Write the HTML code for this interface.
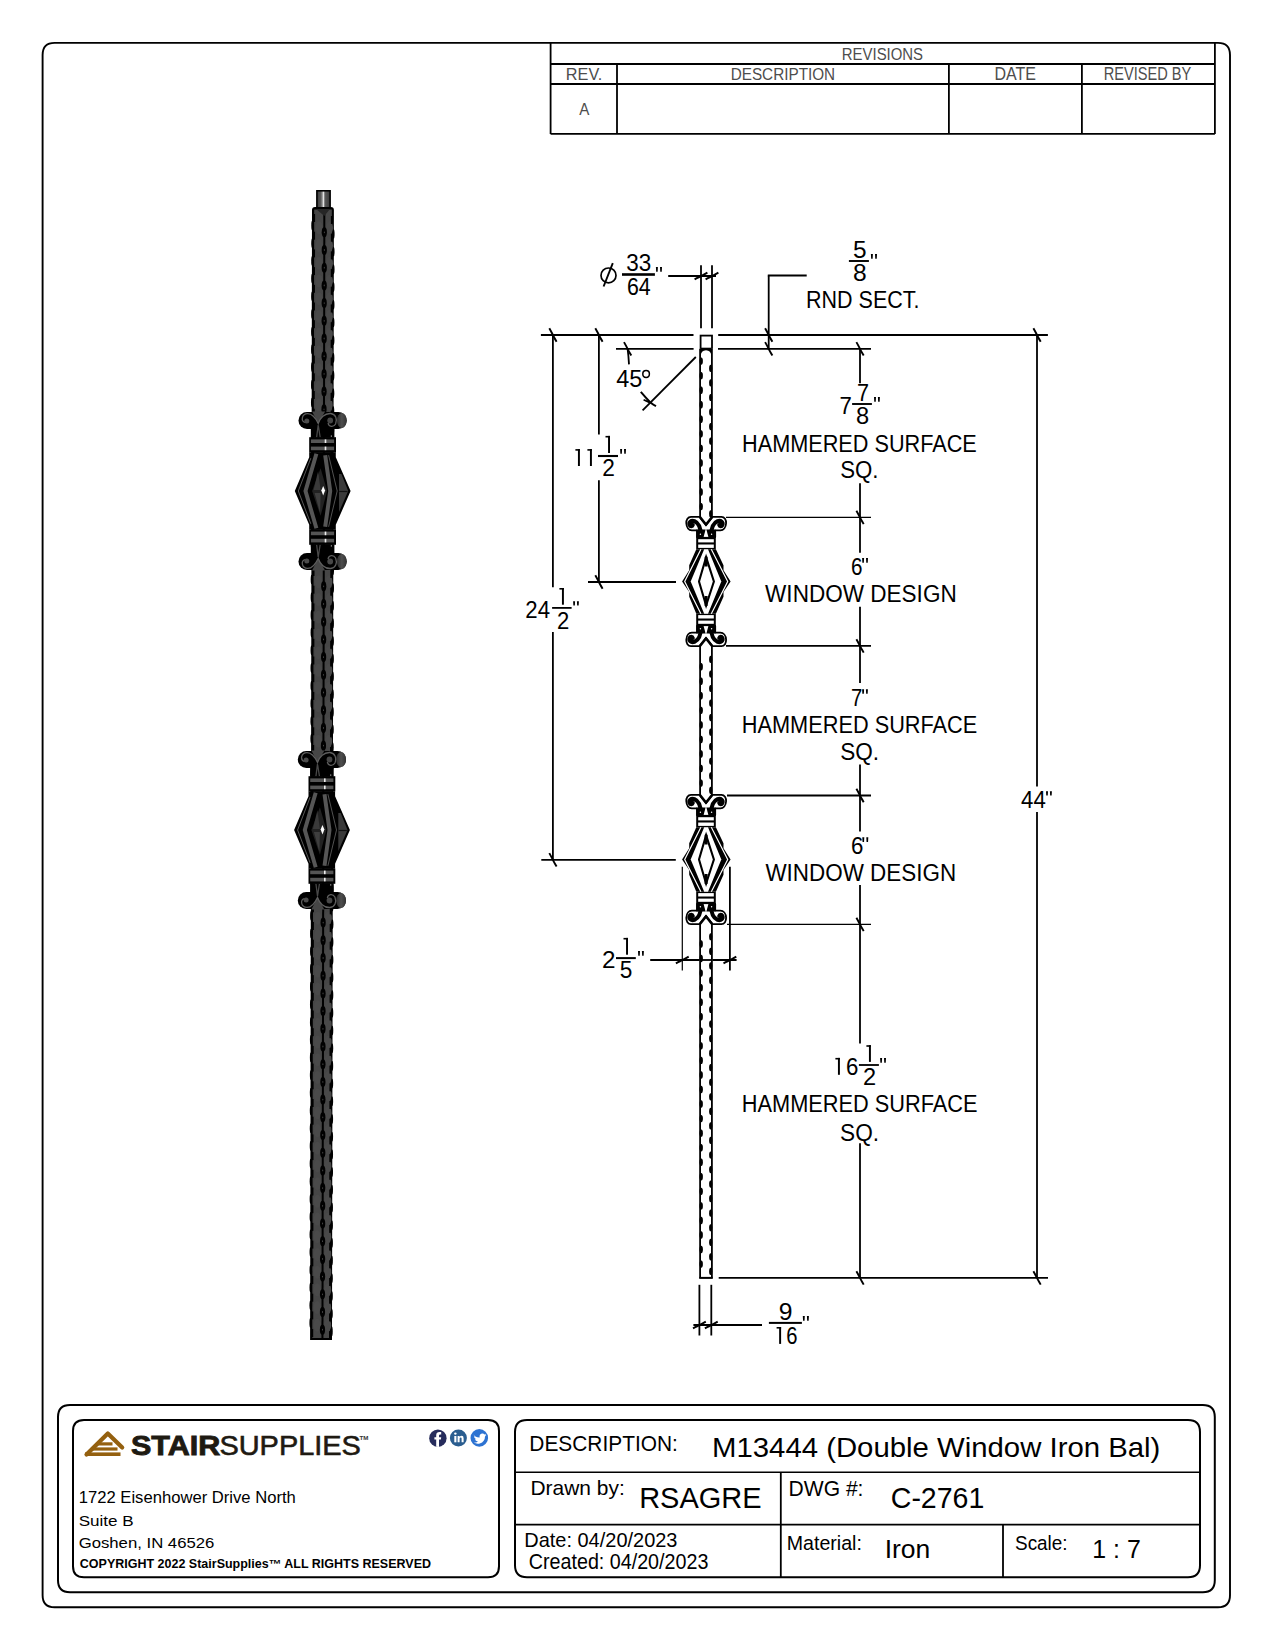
<!DOCTYPE html>
<html><head><meta charset="utf-8"><style>
html,body{margin:0;padding:0;background:#fff;}
svg{display:block;}
text{font-family:"Liberation Sans",sans-serif;}
</style></head><body>
<svg width="1275" height="1650" viewBox="0 0 1275 1650">
<rect x="0" y="0" width="1275" height="1650" fill="#fff"/>
<path d="M42.6,55 Q42.6,42.9 54.6,42.9 L1218,42.9 Q1230,42.9 1230,55 L1230,1595.3 Q1230,1607.3 1218,1607.3 L54.6,1607.3 Q42.6,1607.3 42.6,1595.3 Z" stroke="#000" stroke-width="1.9" fill="none" />
<line x1="550.6" y1="43" x2="550.6" y2="134" stroke="#000" stroke-width="1.8"/>
<line x1="1214.9" y1="43" x2="1214.9" y2="134" stroke="#000" stroke-width="1.8"/>
<line x1="550.6" y1="64" x2="1214.9" y2="64" stroke="#000" stroke-width="1.8"/>
<line x1="550.6" y1="84" x2="1214.9" y2="84" stroke="#000" stroke-width="1.8"/>
<line x1="550.6" y1="133.8" x2="1214.9" y2="133.8" stroke="#000" stroke-width="1.8"/>
<line x1="617" y1="64" x2="617" y2="134" stroke="#000" stroke-width="1.8"/>
<line x1="948.9" y1="64" x2="948.9" y2="134" stroke="#000" stroke-width="1.8"/>
<line x1="1081.9" y1="64" x2="1081.9" y2="134" stroke="#000" stroke-width="1.8"/>
<path d="M58,1417 Q58,1405 70,1405 L1202.8,1405 Q1214.8,1405 1214.8,1417 L1214.8,1580.2 Q1214.8,1592.2 1202.8,1592.2 L70,1592.2 Q58,1592.2 58,1580.2 Z" stroke="#000" stroke-width="2" fill="none" />
<path d="M73,1431 Q73,1420 84,1420 L488,1420 Q499,1420 499,1431 L499,1566.2 Q499,1577.2 488,1577.2 L84,1577.2 Q73,1577.2 73,1566.2 Z" stroke="#000" stroke-width="2" fill="none" />
<path d="M515,1432 Q515,1420 527,1420 L1188,1420 Q1200,1420 1200,1432 L1200,1565.2 Q1200,1577.2 1188,1577.2 L527,1577.2 Q515,1577.2 515,1565.2 Z" stroke="#000" stroke-width="2" fill="none" />
<line x1="515" y1="1472.2" x2="1200" y2="1472.2" stroke="#000" stroke-width="1.5"/>
<line x1="515" y1="1524.6" x2="1200" y2="1524.6" stroke="#000" stroke-width="1.8"/>
<line x1="780.8" y1="1472.2" x2="780.8" y2="1577" stroke="#000" stroke-width="1.8"/>
<line x1="1003" y1="1524.6" x2="1003" y2="1577" stroke="#000" stroke-width="1.8"/>
<line x1="540.9" y1="335" x2="693.5" y2="335" stroke="#000" stroke-width="1.8"/>
<line x1="718.2" y1="335" x2="1047.9" y2="335" stroke="#000" stroke-width="1.8"/>
<line x1="616" y1="348.8" x2="693.6" y2="348.8" stroke="#000" stroke-width="1.8"/>
<line x1="718" y1="348.8" x2="871" y2="348.8" stroke="#000" stroke-width="1.8"/>
<line x1="726" y1="517.4" x2="871" y2="517.4" stroke="#000" stroke-width="1.2"/>
<line x1="588" y1="582" x2="676" y2="582" stroke="#000" stroke-width="1.8"/>
<line x1="726" y1="645.9" x2="871" y2="645.9" stroke="#000" stroke-width="1.8"/>
<line x1="727" y1="795.5" x2="871" y2="795.5" stroke="#000" stroke-width="1.8"/>
<line x1="541.3" y1="859.8" x2="675.8" y2="859.8" stroke="#000" stroke-width="1.8"/>
<line x1="727" y1="924.4" x2="871" y2="924.4" stroke="#000" stroke-width="1.2"/>
<line x1="718.7" y1="1277.9" x2="1048" y2="1277.9" stroke="#000" stroke-width="1.8"/>
<line x1="552.9" y1="335" x2="552.9" y2="587.3" stroke="#000" stroke-width="1.8"/>
<line x1="552.9" y1="632" x2="552.9" y2="859.8" stroke="#000" stroke-width="1.8"/>
<line x1="598.9" y1="335" x2="598.9" y2="434.4" stroke="#000" stroke-width="1.8"/>
<line x1="598.9" y1="480.3" x2="598.9" y2="582" stroke="#000" stroke-width="1.8"/>
<path d="M627.6,348.8 Q628.6,356 629,364.4" stroke="#000" stroke-width="1.8" fill="none" />
<line x1="768.7" y1="275.5" x2="768.7" y2="350" stroke="#000" stroke-width="1.8"/>
<line x1="767.8" y1="275.5" x2="806.7" y2="275.5" stroke="#000" stroke-width="1.8"/>
<line x1="860" y1="348.8" x2="860" y2="383.3" stroke="#000" stroke-width="1.8"/>
<line x1="860" y1="483.2" x2="860" y2="552.7" stroke="#000" stroke-width="1.8"/>
<line x1="860" y1="606.7" x2="860" y2="683" stroke="#000" stroke-width="1.8"/>
<line x1="860" y1="764.5" x2="860" y2="831.4" stroke="#000" stroke-width="1.8"/>
<line x1="860" y1="885.1" x2="860" y2="1043.4" stroke="#000" stroke-width="1.8"/>
<line x1="860" y1="1143.3" x2="860" y2="1277.9" stroke="#000" stroke-width="1.8"/>
<line x1="1037" y1="335" x2="1037" y2="786.5" stroke="#000" stroke-width="1.8"/>
<line x1="1037" y1="812.1" x2="1037" y2="1277.9" stroke="#000" stroke-width="1.8"/>
<line x1="701" y1="265.2" x2="701" y2="328.2" stroke="#000" stroke-width="1.8"/>
<line x1="712" y1="265.2" x2="712" y2="328.2" stroke="#000" stroke-width="1.8"/>
<line x1="668.2" y1="276" x2="716" y2="276" stroke="#000" stroke-width="1.8"/>
<line x1="699.4" y1="1284.8" x2="699.4" y2="1335.5" stroke="#000" stroke-width="1.8"/>
<line x1="711.3" y1="1284.8" x2="711.3" y2="1335.5" stroke="#000" stroke-width="1.8"/>
<line x1="693.4" y1="1325" x2="762" y2="1325" stroke="#000" stroke-width="1.8"/>
<line x1="682.3" y1="866.8" x2="682.3" y2="970.5" stroke="#000" stroke-width="1.2"/>
<line x1="729.9" y1="866.8" x2="729.9" y2="970.5" stroke="#000" stroke-width="1.8"/>
<line x1="650.2" y1="960" x2="736.6" y2="960" stroke="#000" stroke-width="1.8"/>
<line x1="695.8" y1="357.0" x2="642.6" y2="410.4" stroke="#000" stroke-width="1.8"/>
<path d="M549.3,328.3 Q552.1999999999999,333.5 552.9,335 Q553.6,336.5 556.6,341.7" stroke="#000" stroke-width="1.9" fill="none" />
<path d="M549.3,853.0999999999999 Q552.1999999999999,858.3 552.9,859.8 Q553.6,861.3 556.6,866.5" stroke="#000" stroke-width="1.9" fill="none" />
<path d="M595.3,328.3 Q598.1999999999999,333.5 598.9,335 Q599.6,336.5 602.6,341.7" stroke="#000" stroke-width="1.9" fill="none" />
<path d="M595.3,575.3 Q598.1999999999999,580.5 598.9,582 Q599.6,583.5 602.6,588.7" stroke="#000" stroke-width="1.9" fill="none" />
<path d="M765.1,328.3 Q768.0,333.5 768.7,335 Q769.4000000000001,336.5 772.4000000000001,341.7" stroke="#000" stroke-width="1.9" fill="none" />
<path d="M765.1,342.1 Q768.0,347.3 768.7,348.8 Q769.4000000000001,350.3 772.4000000000001,355.5" stroke="#000" stroke-width="1.9" fill="none" />
<path d="M856.4,342.1 Q859.3,347.3 860,348.8 Q860.7,350.3 863.7,355.5" stroke="#000" stroke-width="1.9" fill="none" />
<path d="M856.4,510.7 Q859.3,515.9 860,517.4 Q860.7,518.9 863.7,524.1" stroke="#000" stroke-width="1.9" fill="none" />
<path d="M856.4,639.1999999999999 Q859.3,644.4 860,645.9 Q860.7,647.4 863.7,652.6" stroke="#000" stroke-width="1.9" fill="none" />
<path d="M856.4,788.8 Q859.3,794.0 860,795.5 Q860.7,797.0 863.7,802.2" stroke="#000" stroke-width="1.9" fill="none" />
<path d="M856.4,917.6999999999999 Q859.3,922.9 860,924.4 Q860.7,925.9 863.7,931.1" stroke="#000" stroke-width="1.9" fill="none" />
<path d="M856.4,1271.2 Q859.3,1276.4 860,1277.9 Q860.7,1279.4 863.7,1284.6000000000001" stroke="#000" stroke-width="1.9" fill="none" />
<path d="M1033.4,328.3 Q1036.3,333.5 1037,335 Q1037.7,336.5 1040.7,341.7" stroke="#000" stroke-width="1.9" fill="none" />
<path d="M1033.4,1271.2 Q1036.3,1276.4 1037,1277.9 Q1037.7,1279.4 1040.7,1284.6000000000001" stroke="#000" stroke-width="1.9" fill="none" />
<path d="M624.0,342.1 Q626.9,347.3 627.6,348.8 Q628.3000000000001,350.3 631.3000000000001,355.5" stroke="#000" stroke-width="1.9" fill="none" />
<path d="M694.6,279.4 Q699.5,276.6 701,276 Q702.5,275.4 707.4,272.6" stroke="#000" stroke-width="1.9" fill="none" />
<path d="M705.6,279.4 Q710.5,276.6 712,276 Q713.5,275.4 718.4,272.6" stroke="#000" stroke-width="1.9" fill="none" />
<path d="M675.9,963.4 Q680.8,960.6 682.3,960 Q683.8,959.4 688.6999999999999,956.6" stroke="#000" stroke-width="1.9" fill="none" />
<path d="M723.5,963.4 Q728.4,960.6 729.9,960 Q731.4,959.4 736.3,956.6" stroke="#000" stroke-width="1.9" fill="none" />
<path d="M693.0,1328.4 Q697.9,1325.6 699.4,1325 Q700.9,1324.4 705.8,1321.6" stroke="#000" stroke-width="1.9" fill="none" />
<path d="M704.9,1328.4 Q709.8,1325.6 711.3,1325 Q712.8,1324.4 717.6999999999999,1321.6" stroke="#000" stroke-width="1.9" fill="none" />
<path d="M640.8,391.8 Q646,397.8 650.1,402.2 Q653,404.6 656,406.2" stroke="#000" stroke-width="2" fill="none" />
<path d="M643.6,399.8 L650,402.6" stroke="#000" stroke-width="1.8" fill="none" />
<ellipse cx="608.5" cy="275.4" rx="7.5" ry="7.4" fill="none" stroke="#000" stroke-width="1.7"/>
<line x1="612.8" y1="263.2" x2="603.6" y2="286.5" stroke="#000" stroke-width="1.9"/>
<rect x="622" y="273.2" width="32.89999999999998" height="2.6" fill="#000"/>
<path d="M655.9,267.1 h2.0 l-0.25,4.699999999999989 h-1.5 Z M660.0,267.1 h2.0 l-0.25,4.699999999999989 h-1.5 Z" fill="#000"/>
<rect x="848.9" y="260.05" width="20.0" height="1.9" fill="#000"/>
<path d="M870.9,254.1 h2.0 l-0.25,4.700000000000017 h-1.5 Z M875.0,254.1 h2.0 l-0.25,4.700000000000017 h-1.5 Z" fill="#000"/>
<rect x="852.1" y="403.05" width="19.799999999999955" height="1.9" fill="#000"/>
<path d="M874,397.1 h2.0 l-0.25,4.699999999999989 h-1.5 Z M877.9,397.1 h2.0 l-0.25,4.699999999999989 h-1.5 Z" fill="#000"/>
<rect x="577.95" y="449.10" width="1.95" height="16.90" fill="#000"/>
<rect x="575.40" y="449.10" width="4.5" height="1.6" fill="#000"/>
<rect x="589.95" y="449.10" width="1.95" height="16.90" fill="#000"/>
<rect x="587.40" y="449.10" width="4.5" height="1.6" fill="#000"/>
<rect x="608.05" y="435.90" width="1.95" height="17.10" fill="#000"/>
<rect x="605.50" y="435.90" width="4.5" height="1.6" fill="#000"/>
<rect x="598" y="454.95" width="20" height="2.1" fill="#000"/>
<path d="M620.1,449.1 h2.0 l-0.25,4.699999999999989 h-1.5 Z M624.0,449.1 h2.0 l-0.25,4.699999999999989 h-1.5 Z" fill="#000"/>
<rect x="561.95" y="588.00" width="1.95" height="16.70" fill="#000"/>
<rect x="559.40" y="588.00" width="4.5" height="1.6" fill="#000"/>
<rect x="552.1" y="607.0" width="19.5" height="1.8" fill="#000"/>
<path d="M573.1,601.2 h2.0 l-0.25,4.399999999999977 h-1.5 Z M576.9,601.2 h2.0 l-0.25,4.399999999999977 h-1.5 Z" fill="#000"/>
<path d="M862.1,558 h2.0 l-0.25,4.7000000000000455 h-1.5 Z M866.0,558 h2.0 l-0.25,4.7000000000000455 h-1.5 Z" fill="#000"/>
<path d="M862.1,689.2 h2.0 l-0.25,4.5 h-1.5 Z M865.9,689.2 h2.0 l-0.25,4.5 h-1.5 Z" fill="#000"/>
<path d="M862.3,837.2 h2.0 l-0.25,4.699999999999932 h-1.5 Z M866.3,837.2 h2.0 l-0.25,4.699999999999932 h-1.5 Z" fill="#000"/>
<rect x="626.05" y="937.90" width="1.95" height="16.80" fill="#000"/>
<rect x="623.50" y="937.90" width="4.5" height="1.6" fill="#000"/>
<rect x="616" y="957.1" width="19.799999999999955" height="2" fill="#000"/>
<path d="M638,951 h2.0 l-0.25,4.7000000000000455 h-1.5 Z M641.9,951 h2.0 l-0.25,4.7000000000000455 h-1.5 Z" fill="#000"/>
<rect x="837.95" y="1057.90" width="1.95" height="16.90" fill="#000"/>
<rect x="835.40" y="1057.90" width="4.5" height="1.6" fill="#000"/>
<rect x="868.95" y="1045.20" width="1.95" height="16.70" fill="#000"/>
<rect x="866.40" y="1045.20" width="4.5" height="1.6" fill="#000"/>
<rect x="858.9" y="1064.1" width="20.0" height="1.8" fill="#000"/>
<path d="M880.1,1058.1 h2.0 l-0.25,4.7000000000000455 h-1.5 Z M884.0,1058.1 h2.0 l-0.25,4.7000000000000455 h-1.5 Z" fill="#000"/>
<rect x="768.9" y="1321.9" width="33.0" height="2" fill="#000"/>
<rect x="779.15" y="1327.00" width="1.95" height="16.90" fill="#000"/>
<rect x="776.60" y="1327.00" width="4.5" height="1.6" fill="#000"/>
<path d="M802.8,1316 h2.0 l-0.25,4.7000000000000455 h-1.5 Z M806.9,1316 h2.0 l-0.25,4.7000000000000455 h-1.5 Z" fill="#000"/>
<path d="M1046,791.2 h2.0 l-0.25,4.399999999999977 h-1.5 Z M1049.9,791.2 h2.0 l-0.25,4.399999999999977 h-1.5 Z" fill="#000"/>
<ellipse cx="646.1" cy="374" rx="3.3" ry="3.4" fill="none" stroke="#000" stroke-width="1.5"/>
<path d="M86.5,1454.6 L107.8,1433.4 L122.2,1447.6" fill="none" stroke="#94600f" stroke-width="4.2" stroke-linejoin="round" stroke-linecap="round"/>
<rect x="97" y="1442.3" width="15.5" height="3.2" fill="#94600f"/>
<rect x="91.5" y="1447.4" width="26" height="3.2" fill="#94600f"/>
<rect x="85" y="1452.4" width="35.5" height="3.6" fill="#94600f"/>
<text x="359.6" y="1440" font-size="6.2" font-weight="bold" fill="#333">TM</text>
<circle cx="437.9" cy="1438.2" r="8.7" fill="#262c5c"/>
<path d="M436.2,1446.8 L436.2,1439.5 L434.4,1439.5 L434.4,1437.2 L436.2,1437.2 L436.2,1435.3 Q436.2,1432 439.6,1432 L441.2,1432.1 L441.2,1434.4 L440.1,1434.4 Q439,1434.4 439,1435.5 L439,1437.2 L441.2,1437.2 L440.9,1439.5 L439,1439.5 L439,1446.9 Z" fill="#fff"/>
<circle cx="458.4" cy="1437.9" r="8.5" fill="#2a5d8f"/>
<rect x="454.3" y="1436" width="2.1" height="6.3" fill="#fff"/><circle cx="455.35" cy="1433.6" r="1.2" fill="#fff"/>
<path d="M457.6,1442.3 L457.6,1436 L459.6,1436 L459.6,1436.9 Q460.4,1435.8 461.8,1435.8 Q463.6,1435.8 463.6,1438.2 L463.6,1442.3 L461.6,1442.3 L461.6,1438.6 Q461.6,1437.5 460.7,1437.5 Q459.6,1437.5 459.6,1438.8 L459.6,1442.3 Z" fill="#fff"/>
<circle cx="479.3" cy="1437.9" r="8.8" fill="#2d73d2"/>
<path d="M473.6,1434.4 Q475.6,1437.6 479.6,1437.4 Q479.2,1434.2 482,1433.6 Q483.6,1433.4 484.6,1434.4 L486.2,1433.8 L485.2,1435.2 L486.4,1435 Q485.6,1436 485,1436.4 Q485,1441.6 479.8,1443.4 Q476.6,1444.2 473.8,1442.6 Q476.4,1442.6 478,1441.4 Q475.6,1441.2 474.8,1439.2 L476.2,1439.2 Q474,1438.4 474,1436.2 L475.4,1436.6 Q473.6,1435.4 473.6,1434.4 Z" fill="#fff"/>
<rect x="700.6" y="335.6" width="11.4" height="13" fill="#fff" stroke="#000" stroke-width="1.8"/>
<rect x="699.2" y="348.8" width="13.6" height="168.7" fill="#fff"/>
<rect x="699.2" y="348.8" width="1.8" height="168.7" fill="#000"/>
<rect x="711.0" y="348.8" width="1.8" height="168.7" fill="#000"/>
<ellipse cx="701.2" cy="361.10" rx="1.7" ry="3.7" fill="#000"/>
<ellipse cx="710.7" cy="368.38" rx="1.6" ry="3.6" fill="#000"/>
<ellipse cx="701.2" cy="375.65" rx="1.7" ry="3.7" fill="#000"/>
<ellipse cx="710.7" cy="382.93" rx="1.6" ry="3.6" fill="#000"/>
<ellipse cx="701.2" cy="390.20" rx="1.7" ry="3.7" fill="#000"/>
<ellipse cx="710.7" cy="397.48" rx="1.6" ry="3.6" fill="#000"/>
<ellipse cx="701.2" cy="404.75" rx="1.7" ry="3.7" fill="#000"/>
<ellipse cx="710.7" cy="412.03" rx="1.6" ry="3.6" fill="#000"/>
<ellipse cx="701.2" cy="419.30" rx="1.7" ry="3.7" fill="#000"/>
<ellipse cx="710.7" cy="426.58" rx="1.6" ry="3.6" fill="#000"/>
<ellipse cx="701.2" cy="433.85" rx="1.7" ry="3.7" fill="#000"/>
<ellipse cx="710.7" cy="441.13" rx="1.6" ry="3.6" fill="#000"/>
<ellipse cx="701.2" cy="448.40" rx="1.7" ry="3.7" fill="#000"/>
<ellipse cx="710.7" cy="455.68" rx="1.6" ry="3.6" fill="#000"/>
<ellipse cx="701.2" cy="462.95" rx="1.7" ry="3.7" fill="#000"/>
<ellipse cx="710.7" cy="470.23" rx="1.6" ry="3.6" fill="#000"/>
<ellipse cx="701.2" cy="477.50" rx="1.7" ry="3.7" fill="#000"/>
<ellipse cx="710.7" cy="484.78" rx="1.6" ry="3.6" fill="#000"/>
<ellipse cx="701.2" cy="492.05" rx="1.7" ry="3.7" fill="#000"/>
<ellipse cx="710.7" cy="499.33" rx="1.6" ry="3.6" fill="#000"/>
<ellipse cx="701.2" cy="506.60" rx="1.7" ry="3.7" fill="#000"/>
<ellipse cx="710.7" cy="513.88" rx="1.6" ry="3.6" fill="#000"/>
<path d="M700.5,348 L711.5,348 L711.5,356 Q711,350.5 706,350.2 Q701,350.5 700.5,356 Z" fill="#000"/>
<rect x="699.2" y="645.5" width="13.6" height="150.0" fill="#fff"/>
<rect x="699.2" y="645.5" width="1.8" height="150.0" fill="#000"/>
<rect x="711.0" y="645.5" width="1.8" height="150.0" fill="#000"/>
<ellipse cx="710.7" cy="659.43" rx="1.6" ry="3.6" fill="#000"/>
<ellipse cx="701.2" cy="666.70" rx="1.7" ry="3.7" fill="#000"/>
<ellipse cx="710.7" cy="673.98" rx="1.6" ry="3.6" fill="#000"/>
<ellipse cx="701.2" cy="681.25" rx="1.7" ry="3.7" fill="#000"/>
<ellipse cx="710.7" cy="688.52" rx="1.6" ry="3.6" fill="#000"/>
<ellipse cx="701.2" cy="695.80" rx="1.7" ry="3.7" fill="#000"/>
<ellipse cx="710.7" cy="703.07" rx="1.6" ry="3.6" fill="#000"/>
<ellipse cx="701.2" cy="710.35" rx="1.7" ry="3.7" fill="#000"/>
<ellipse cx="710.7" cy="717.62" rx="1.6" ry="3.6" fill="#000"/>
<ellipse cx="701.2" cy="724.90" rx="1.7" ry="3.7" fill="#000"/>
<ellipse cx="710.7" cy="732.17" rx="1.6" ry="3.6" fill="#000"/>
<ellipse cx="701.2" cy="739.45" rx="1.7" ry="3.7" fill="#000"/>
<ellipse cx="710.7" cy="746.72" rx="1.6" ry="3.6" fill="#000"/>
<ellipse cx="701.2" cy="754.00" rx="1.7" ry="3.7" fill="#000"/>
<ellipse cx="710.7" cy="761.27" rx="1.6" ry="3.6" fill="#000"/>
<ellipse cx="701.2" cy="768.55" rx="1.7" ry="3.7" fill="#000"/>
<ellipse cx="710.7" cy="775.82" rx="1.6" ry="3.6" fill="#000"/>
<ellipse cx="701.2" cy="783.10" rx="1.7" ry="3.7" fill="#000"/>
<ellipse cx="710.7" cy="790.37" rx="1.6" ry="3.6" fill="#000"/>
<rect x="699.2" y="923.5" width="13.6" height="354.4000000000001" fill="#fff"/>
<rect x="699.2" y="923.5" width="1.8" height="354.4000000000001" fill="#000"/>
<rect x="711.0" y="923.5" width="1.8" height="354.4000000000001" fill="#000"/>
<ellipse cx="710.7" cy="936.73" rx="1.6" ry="3.6" fill="#000"/>
<ellipse cx="701.2" cy="944.00" rx="1.7" ry="3.7" fill="#000"/>
<ellipse cx="710.7" cy="951.28" rx="1.6" ry="3.6" fill="#000"/>
<ellipse cx="701.2" cy="958.55" rx="1.7" ry="3.7" fill="#000"/>
<ellipse cx="710.7" cy="965.83" rx="1.6" ry="3.6" fill="#000"/>
<ellipse cx="701.2" cy="973.10" rx="1.7" ry="3.7" fill="#000"/>
<ellipse cx="710.7" cy="980.38" rx="1.6" ry="3.6" fill="#000"/>
<ellipse cx="701.2" cy="987.65" rx="1.7" ry="3.7" fill="#000"/>
<ellipse cx="710.7" cy="994.93" rx="1.6" ry="3.6" fill="#000"/>
<ellipse cx="701.2" cy="1002.20" rx="1.7" ry="3.7" fill="#000"/>
<ellipse cx="710.7" cy="1009.48" rx="1.6" ry="3.6" fill="#000"/>
<ellipse cx="701.2" cy="1016.75" rx="1.7" ry="3.7" fill="#000"/>
<ellipse cx="710.7" cy="1024.03" rx="1.6" ry="3.6" fill="#000"/>
<ellipse cx="701.2" cy="1031.30" rx="1.7" ry="3.7" fill="#000"/>
<ellipse cx="710.7" cy="1038.58" rx="1.6" ry="3.6" fill="#000"/>
<ellipse cx="701.2" cy="1045.85" rx="1.7" ry="3.7" fill="#000"/>
<ellipse cx="710.7" cy="1053.13" rx="1.6" ry="3.6" fill="#000"/>
<ellipse cx="701.2" cy="1060.40" rx="1.7" ry="3.7" fill="#000"/>
<ellipse cx="710.7" cy="1067.68" rx="1.6" ry="3.6" fill="#000"/>
<ellipse cx="701.2" cy="1074.95" rx="1.7" ry="3.7" fill="#000"/>
<ellipse cx="710.7" cy="1082.23" rx="1.6" ry="3.6" fill="#000"/>
<ellipse cx="701.2" cy="1089.50" rx="1.7" ry="3.7" fill="#000"/>
<ellipse cx="710.7" cy="1096.78" rx="1.6" ry="3.6" fill="#000"/>
<ellipse cx="701.2" cy="1104.05" rx="1.7" ry="3.7" fill="#000"/>
<ellipse cx="710.7" cy="1111.33" rx="1.6" ry="3.6" fill="#000"/>
<ellipse cx="701.2" cy="1118.60" rx="1.7" ry="3.7" fill="#000"/>
<ellipse cx="710.7" cy="1125.88" rx="1.6" ry="3.6" fill="#000"/>
<ellipse cx="701.2" cy="1133.15" rx="1.7" ry="3.7" fill="#000"/>
<ellipse cx="710.7" cy="1140.43" rx="1.6" ry="3.6" fill="#000"/>
<ellipse cx="701.2" cy="1147.70" rx="1.7" ry="3.7" fill="#000"/>
<ellipse cx="710.7" cy="1154.98" rx="1.6" ry="3.6" fill="#000"/>
<ellipse cx="701.2" cy="1162.25" rx="1.7" ry="3.7" fill="#000"/>
<ellipse cx="710.7" cy="1169.53" rx="1.6" ry="3.6" fill="#000"/>
<ellipse cx="701.2" cy="1176.80" rx="1.7" ry="3.7" fill="#000"/>
<ellipse cx="710.7" cy="1184.08" rx="1.6" ry="3.6" fill="#000"/>
<ellipse cx="701.2" cy="1191.35" rx="1.7" ry="3.7" fill="#000"/>
<ellipse cx="710.7" cy="1198.63" rx="1.6" ry="3.6" fill="#000"/>
<ellipse cx="701.2" cy="1205.90" rx="1.7" ry="3.7" fill="#000"/>
<ellipse cx="710.7" cy="1213.18" rx="1.6" ry="3.6" fill="#000"/>
<ellipse cx="701.2" cy="1220.45" rx="1.7" ry="3.7" fill="#000"/>
<ellipse cx="710.7" cy="1227.73" rx="1.6" ry="3.6" fill="#000"/>
<ellipse cx="701.2" cy="1235.00" rx="1.7" ry="3.7" fill="#000"/>
<ellipse cx="710.7" cy="1242.28" rx="1.6" ry="3.6" fill="#000"/>
<ellipse cx="701.2" cy="1249.55" rx="1.7" ry="3.7" fill="#000"/>
<ellipse cx="710.7" cy="1256.83" rx="1.6" ry="3.6" fill="#000"/>
<ellipse cx="701.2" cy="1264.10" rx="1.7" ry="3.7" fill="#000"/>
<ellipse cx="710.7" cy="1271.38" rx="1.6" ry="3.6" fill="#000"/>
<rect x="699.2" y="1276.9" width="13.6" height="2.0" fill="#000"/>
<path d="M699.4,516.9 L691,516.9 C687.8,516.9 686.2,520.0 686.3,523.3 C686.5,527.5 688.8,530.3 691.8,530.3 L697,530.3 L697,537.0 L715.2,537.0 L715.2,530.3 L720.4,530.3 C723.4,530.3 725.9,527.5 726.1,523.3 C726.2,520.0 724.6,516.9 721.4,516.9 L712.6,516.9 L706,525.3 Z" fill="#fff" stroke="#000" stroke-width="1.8" stroke-linejoin="round"/>
<rect x="696.4" y="529.5" width="19.2" height="7.5" fill="#000"/>
<path d="M701,536.5 C701,529.5 699,523.0 694.5,521.2 C690.8,520.0 688.6,522.7 689.6,525.1 C690.4,526.7 692.3,526.5 692.8,524.9" fill="none" stroke="#000" stroke-width="4" stroke-linecap="round"/>
<path d="M711,536.5 C711,529.5 713,523.0 717.5,521.2 C721.2,520.0 723.4,522.7 722.4,525.1 C721.6,526.7 719.7,526.5 719.2,524.9" fill="none" stroke="#000" stroke-width="4" stroke-linecap="round"/>
<path d="M700,516.9 L706,524.5 L712,516.9" fill="none" stroke="#000" stroke-width="2.4"/>
<path d="M703.6,536.9 L706,528.0 L708.4,536.9 Z" fill="#fff"/>
<circle cx="700.4" cy="534.3" r="0.7" fill="#fff"/><circle cx="711.6" cy="534.3" r="0.7" fill="#fff"/>
<path d="M699.4,646.1 L691,646.1 C687.8,646.1 686.2,643.0 686.3,639.7 C686.5,635.5 688.8,632.7 691.8,632.7 L697,632.7 L697,626.0 L715.2,626.0 L715.2,632.7 L720.4,632.7 C723.4,632.7 725.9,635.5 726.1,639.7 C726.2,643.0 724.6,646.1 721.4,646.1 L712.6,646.1 L706,637.7 Z" fill="#fff" stroke="#000" stroke-width="1.8" stroke-linejoin="round"/>
<rect x="696.4" y="626.0" width="19.2" height="7.5" fill="#000"/>
<path d="M701,626.5 C701,633.5 699,640.0 694.5,641.8 C690.8,643.0 688.6,640.3 689.6,637.9 C690.4,636.3 692.3,636.5 692.8,638.1" fill="none" stroke="#000" stroke-width="4" stroke-linecap="round"/>
<path d="M711,626.5 C711,633.5 713,640.0 717.5,641.8 C721.2,643.0 723.4,640.3 722.4,637.9 C721.6,636.3 719.7,636.5 719.2,638.1" fill="none" stroke="#000" stroke-width="4" stroke-linecap="round"/>
<path d="M700,646.1 L706,638.5 L712,646.1" fill="none" stroke="#000" stroke-width="2.4"/>
<path d="M703.6,626.1 L706,635.0 L708.4,626.1 Z" fill="#fff"/>
<circle cx="700.4" cy="628.7" r="0.7" fill="#fff"/><circle cx="711.6" cy="628.7" r="0.7" fill="#fff"/>
<rect x="696.2" y="536.9" width="19.6" height="12.300000000000068" fill="#000"/>
<rect x="698.2" y="539.1999999999999" width="15.6" height="3.2" fill="#fff"/>
<rect x="698.2" y="544.5" width="15.6" height="3.4" fill="#fff"/>
<rect x="696.2" y="613.8" width="19.6" height="12.300000000000068" fill="#000"/>
<rect x="698.2" y="620.6" width="15.6" height="3.2" fill="#fff"/>
<rect x="698.2" y="615.1" width="15.6" height="3.4" fill="#fff"/>
<path d="M696.3,549.2 L689.2,565.2 L689.2,570.3 L682.1,581.5 L689.2,592.0 L689.2,596.8 L696.3,613.8 L715.9,613.8 L723.5,596.8 L723.5,592.0 L730.6,581.5 L723.5,570.3 L723.5,565.2 L715.9,549.2 Z" fill="#000"/>
<path d="M700.9,549.2 L684.7,581.5 L700.9,613.8 M711.3,549.2 L727.7,581.5 L711.3,613.8" fill="none" stroke="#fff" stroke-width="1.2"/>
<path d="M704.2,549.2 L690.7,581.5 L704.2,613.8 L708,613.8 L721.3,581.5 L708,549.2 Z" fill="#fff"/>
<path d="M706.1,557.2 L699,581.5 L706.1,605.5 L713.9,581.5 Z" fill="#fff" stroke="#000" stroke-width="2.1"/>
<path d="M704.6,557.0 L706.1,555.5 L707.6,557.0 L707.6,566.5 L704.6,566.5 Z" fill="#000"/>
<path d="M704.6,605.5 L706.1,607.0 L707.6,605.5 L707.6,596.0 L704.6,596.0 Z" fill="#000"/>
<path d="M699.4,794.9 L691,794.9 C687.8,794.9 686.2,798.0 686.3,801.3 C686.5,805.5 688.8,808.3 691.8,808.3 L697,808.3 L697,815.0 L715.2,815.0 L715.2,808.3 L720.4,808.3 C723.4,808.3 725.9,805.5 726.1,801.3 C726.2,798.0 724.6,794.9 721.4,794.9 L712.6,794.9 L706,803.3 Z" fill="#fff" stroke="#000" stroke-width="1.8" stroke-linejoin="round"/>
<rect x="696.4" y="807.5" width="19.2" height="7.5" fill="#000"/>
<path d="M701,814.5 C701,807.5 699,801.0 694.5,799.2 C690.8,798.0 688.6,800.7 689.6,803.1 C690.4,804.7 692.3,804.5 692.8,802.9" fill="none" stroke="#000" stroke-width="4" stroke-linecap="round"/>
<path d="M711,814.5 C711,807.5 713,801.0 717.5,799.2 C721.2,798.0 723.4,800.7 722.4,803.1 C721.6,804.7 719.7,804.5 719.2,802.9" fill="none" stroke="#000" stroke-width="4" stroke-linecap="round"/>
<path d="M700,794.9 L706,802.5 L712,794.9" fill="none" stroke="#000" stroke-width="2.4"/>
<path d="M703.6,814.9 L706,806.0 L708.4,814.9 Z" fill="#fff"/>
<circle cx="700.4" cy="812.3" r="0.7" fill="#fff"/><circle cx="711.6" cy="812.3" r="0.7" fill="#fff"/>
<path d="M699.4,924.1 L691,924.1 C687.8,924.1 686.2,921.0 686.3,917.7 C686.5,913.5 688.8,910.7 691.8,910.7 L697,910.7 L697,904.0 L715.2,904.0 L715.2,910.7 L720.4,910.7 C723.4,910.7 725.9,913.5 726.1,917.7 C726.2,921.0 724.6,924.1 721.4,924.1 L712.6,924.1 L706,915.7 Z" fill="#fff" stroke="#000" stroke-width="1.8" stroke-linejoin="round"/>
<rect x="696.4" y="904.0" width="19.2" height="7.5" fill="#000"/>
<path d="M701,904.5 C701,911.5 699,918.0 694.5,919.8 C690.8,921.0 688.6,918.3 689.6,915.9 C690.4,914.3 692.3,914.5 692.8,916.1" fill="none" stroke="#000" stroke-width="4" stroke-linecap="round"/>
<path d="M711,904.5 C711,911.5 713,918.0 717.5,919.8 C721.2,921.0 723.4,918.3 722.4,915.9 C721.6,914.3 719.7,914.5 719.2,916.1" fill="none" stroke="#000" stroke-width="4" stroke-linecap="round"/>
<path d="M700,924.1 L706,916.5 L712,924.1" fill="none" stroke="#000" stroke-width="2.4"/>
<path d="M703.6,904.1 L706,913.0 L708.4,904.1 Z" fill="#fff"/>
<circle cx="700.4" cy="906.7" r="0.7" fill="#fff"/><circle cx="711.6" cy="906.7" r="0.7" fill="#fff"/>
<rect x="696.2" y="814.9" width="19.6" height="12.300000000000068" fill="#000"/>
<rect x="698.2" y="817.1999999999999" width="15.6" height="3.2" fill="#fff"/>
<rect x="698.2" y="822.5" width="15.6" height="3.4" fill="#fff"/>
<rect x="696.2" y="891.8" width="19.6" height="12.300000000000068" fill="#000"/>
<rect x="698.2" y="898.6" width="15.6" height="3.2" fill="#fff"/>
<rect x="698.2" y="893.1" width="15.6" height="3.4" fill="#fff"/>
<path d="M696.3,827.2 L689.2,843.2 L689.2,848.3 L682.1,859.5 L689.2,870.0 L689.2,874.8 L696.3,891.8 L715.9,891.8 L723.5,874.8 L723.5,870.0 L730.6,859.5 L723.5,848.3 L723.5,843.2 L715.9,827.2 Z" fill="#000"/>
<path d="M700.9,827.2 L684.7,859.5 L700.9,891.8 M711.3,827.2 L727.7,859.5 L711.3,891.8" fill="none" stroke="#fff" stroke-width="1.2"/>
<path d="M704.2,827.2 L690.7,859.5 L704.2,891.8 L708,891.8 L721.3,859.5 L708,827.2 Z" fill="#fff"/>
<path d="M706.1,835.2 L699,859.5 L706.1,883.5 L713.9,859.5 Z" fill="#fff" stroke="#000" stroke-width="2.1"/>
<path d="M704.6,835.0 L706.1,833.5 L707.6,835.0 L707.6,844.5 L704.6,844.5 Z" fill="#000"/>
<path d="M704.6,883.5 L706.1,885.0 L707.6,883.5 L707.6,874.0 L704.6,874.0 Z" fill="#000"/>
<line x1="699.5" y1="960" x2="712.5" y2="960" stroke="#000" stroke-width="1.8"/>
<defs><linearGradient id="nubg" x1="0" x2="1" y1="0" y2="0"><stop offset="0" stop-color="#3a3a3a"/><stop offset="0.3" stop-color="#5a5a5a"/><stop offset="0.42" stop-color="#9a9a9a"/><stop offset="0.47" stop-color="#f4f4f4"/><stop offset="0.53" stop-color="#d0d0d0"/><stop offset="0.6" stop-color="#5a5a5a"/><stop offset="1" stop-color="#3a3a3a"/></linearGradient><linearGradient id="cylg" x1="0" x2="1" y1="0" y2="0"><stop offset="0" stop-color="#2a2a2a"/><stop offset="0.5" stop-color="#4e4e4e"/><stop offset="1" stop-color="#333"/></linearGradient></defs>
<rect x="316.9" y="190.8" width="13.2" height="17" fill="url(#nubg)" stroke="#000" stroke-width="1.6"/>
<path d="M315.0,207.0 L330.9,207.0 Q333.9,207.0 333.9,210.0 L331.99656,1340.0 L310.09656,1340.0 L312.0,210.0 Q312.0,207.0 315.0,207.0 Z" fill="#000"/>
<path d="M314.2,209.4 L331.8,209.4 L329.89656,1338.0 L312.29656,1338.0 Z" fill="#464646"/>
<ellipse cx="319.03" cy="227.85" rx="3.6" ry="6.5" fill="#4a4a4a"/>
<ellipse cx="329.63" cy="227.85" rx="3.4" ry="6.5" fill="#494949"/>
<ellipse cx="319.00" cy="245.55" rx="3.6" ry="6.5" fill="#4a4a4a"/>
<ellipse cx="329.60" cy="245.55" rx="3.4" ry="6.5" fill="#494949"/>
<ellipse cx="318.97" cy="263.25" rx="3.6" ry="6.5" fill="#4a4a4a"/>
<ellipse cx="329.57" cy="263.25" rx="3.4" ry="6.5" fill="#494949"/>
<ellipse cx="318.94" cy="280.95" rx="3.6" ry="6.5" fill="#4a4a4a"/>
<ellipse cx="329.54" cy="280.95" rx="3.4" ry="6.5" fill="#494949"/>
<ellipse cx="318.91" cy="298.65" rx="3.6" ry="6.5" fill="#4a4a4a"/>
<ellipse cx="329.51" cy="298.65" rx="3.4" ry="6.5" fill="#494949"/>
<ellipse cx="318.88" cy="316.35" rx="3.6" ry="6.5" fill="#4a4a4a"/>
<ellipse cx="329.48" cy="316.35" rx="3.4" ry="6.5" fill="#494949"/>
<ellipse cx="318.85" cy="334.05" rx="3.6" ry="6.5" fill="#4a4a4a"/>
<ellipse cx="329.45" cy="334.05" rx="3.4" ry="6.5" fill="#494949"/>
<ellipse cx="318.82" cy="351.75" rx="3.6" ry="6.5" fill="#4a4a4a"/>
<ellipse cx="329.42" cy="351.75" rx="3.4" ry="6.5" fill="#494949"/>
<ellipse cx="318.79" cy="369.45" rx="3.6" ry="6.5" fill="#4a4a4a"/>
<ellipse cx="329.39" cy="369.45" rx="3.4" ry="6.5" fill="#494949"/>
<ellipse cx="318.76" cy="387.15" rx="3.6" ry="6.5" fill="#4a4a4a"/>
<ellipse cx="329.36" cy="387.15" rx="3.4" ry="6.5" fill="#494949"/>
<ellipse cx="318.73" cy="404.85" rx="3.6" ry="6.5" fill="#4a4a4a"/>
<ellipse cx="329.33" cy="404.85" rx="3.4" ry="6.5" fill="#494949"/>
<ellipse cx="318.70" cy="422.55" rx="3.6" ry="6.5" fill="#4a4a4a"/>
<ellipse cx="329.30" cy="422.55" rx="3.4" ry="6.5" fill="#494949"/>
<ellipse cx="318.67" cy="440.25" rx="3.6" ry="6.5" fill="#4a4a4a"/>
<ellipse cx="329.27" cy="440.25" rx="3.4" ry="6.5" fill="#494949"/>
<ellipse cx="318.64" cy="457.95" rx="3.6" ry="6.5" fill="#4a4a4a"/>
<ellipse cx="329.24" cy="457.95" rx="3.4" ry="6.5" fill="#494949"/>
<ellipse cx="318.61" cy="475.65" rx="3.6" ry="6.5" fill="#4a4a4a"/>
<ellipse cx="329.21" cy="475.65" rx="3.4" ry="6.5" fill="#494949"/>
<ellipse cx="318.58" cy="493.35" rx="3.6" ry="6.5" fill="#4a4a4a"/>
<ellipse cx="329.18" cy="493.35" rx="3.4" ry="6.5" fill="#494949"/>
<ellipse cx="318.55" cy="511.05" rx="3.6" ry="6.5" fill="#4a4a4a"/>
<ellipse cx="329.15" cy="511.05" rx="3.4" ry="6.5" fill="#494949"/>
<ellipse cx="318.52" cy="528.75" rx="3.6" ry="6.5" fill="#4a4a4a"/>
<ellipse cx="329.12" cy="528.75" rx="3.4" ry="6.5" fill="#494949"/>
<ellipse cx="318.49" cy="546.45" rx="3.6" ry="6.5" fill="#4a4a4a"/>
<ellipse cx="329.09" cy="546.45" rx="3.4" ry="6.5" fill="#494949"/>
<ellipse cx="318.46" cy="564.15" rx="3.6" ry="6.5" fill="#4a4a4a"/>
<ellipse cx="329.06" cy="564.15" rx="3.4" ry="6.5" fill="#494949"/>
<ellipse cx="318.44" cy="581.85" rx="3.6" ry="6.5" fill="#4a4a4a"/>
<ellipse cx="329.04" cy="581.85" rx="3.4" ry="6.5" fill="#494949"/>
<ellipse cx="318.41" cy="599.55" rx="3.6" ry="6.5" fill="#4a4a4a"/>
<ellipse cx="329.01" cy="599.55" rx="3.4" ry="6.5" fill="#494949"/>
<ellipse cx="318.38" cy="617.25" rx="3.6" ry="6.5" fill="#4a4a4a"/>
<ellipse cx="328.98" cy="617.25" rx="3.4" ry="6.5" fill="#494949"/>
<ellipse cx="318.35" cy="634.95" rx="3.6" ry="6.5" fill="#4a4a4a"/>
<ellipse cx="328.95" cy="634.95" rx="3.4" ry="6.5" fill="#494949"/>
<ellipse cx="318.32" cy="652.65" rx="3.6" ry="6.5" fill="#4a4a4a"/>
<ellipse cx="328.92" cy="652.65" rx="3.4" ry="6.5" fill="#494949"/>
<ellipse cx="318.29" cy="670.35" rx="3.6" ry="6.5" fill="#4a4a4a"/>
<ellipse cx="328.89" cy="670.35" rx="3.4" ry="6.5" fill="#494949"/>
<ellipse cx="318.26" cy="688.05" rx="3.6" ry="6.5" fill="#4a4a4a"/>
<ellipse cx="328.86" cy="688.05" rx="3.4" ry="6.5" fill="#494949"/>
<ellipse cx="318.23" cy="705.75" rx="3.6" ry="6.5" fill="#4a4a4a"/>
<ellipse cx="328.83" cy="705.75" rx="3.4" ry="6.5" fill="#494949"/>
<ellipse cx="318.20" cy="723.45" rx="3.6" ry="6.5" fill="#4a4a4a"/>
<ellipse cx="328.80" cy="723.45" rx="3.4" ry="6.5" fill="#494949"/>
<ellipse cx="318.17" cy="741.15" rx="3.6" ry="6.5" fill="#4a4a4a"/>
<ellipse cx="328.77" cy="741.15" rx="3.4" ry="6.5" fill="#494949"/>
<ellipse cx="318.14" cy="758.85" rx="3.6" ry="6.5" fill="#4a4a4a"/>
<ellipse cx="328.74" cy="758.85" rx="3.4" ry="6.5" fill="#494949"/>
<ellipse cx="318.11" cy="776.55" rx="3.6" ry="6.5" fill="#4a4a4a"/>
<ellipse cx="328.71" cy="776.55" rx="3.4" ry="6.5" fill="#494949"/>
<ellipse cx="318.08" cy="794.25" rx="3.6" ry="6.5" fill="#4a4a4a"/>
<ellipse cx="328.68" cy="794.25" rx="3.4" ry="6.5" fill="#494949"/>
<ellipse cx="318.05" cy="811.95" rx="3.6" ry="6.5" fill="#4a4a4a"/>
<ellipse cx="328.65" cy="811.95" rx="3.4" ry="6.5" fill="#494949"/>
<ellipse cx="318.02" cy="829.65" rx="3.6" ry="6.5" fill="#4a4a4a"/>
<ellipse cx="328.62" cy="829.65" rx="3.4" ry="6.5" fill="#494949"/>
<ellipse cx="317.99" cy="847.35" rx="3.6" ry="6.5" fill="#4a4a4a"/>
<ellipse cx="328.59" cy="847.35" rx="3.4" ry="6.5" fill="#494949"/>
<ellipse cx="317.96" cy="865.05" rx="3.6" ry="6.5" fill="#4a4a4a"/>
<ellipse cx="328.56" cy="865.05" rx="3.4" ry="6.5" fill="#494949"/>
<ellipse cx="317.93" cy="882.75" rx="3.6" ry="6.5" fill="#4a4a4a"/>
<ellipse cx="328.53" cy="882.75" rx="3.4" ry="6.5" fill="#494949"/>
<ellipse cx="317.90" cy="900.45" rx="3.6" ry="6.5" fill="#4a4a4a"/>
<ellipse cx="328.50" cy="900.45" rx="3.4" ry="6.5" fill="#494949"/>
<ellipse cx="317.87" cy="918.15" rx="3.6" ry="6.5" fill="#4a4a4a"/>
<ellipse cx="328.47" cy="918.15" rx="3.4" ry="6.5" fill="#494949"/>
<ellipse cx="317.84" cy="935.85" rx="3.6" ry="6.5" fill="#4a4a4a"/>
<ellipse cx="328.44" cy="935.85" rx="3.4" ry="6.5" fill="#494949"/>
<ellipse cx="317.81" cy="953.55" rx="3.6" ry="6.5" fill="#4a4a4a"/>
<ellipse cx="328.41" cy="953.55" rx="3.4" ry="6.5" fill="#494949"/>
<ellipse cx="317.78" cy="971.25" rx="3.6" ry="6.5" fill="#4a4a4a"/>
<ellipse cx="328.38" cy="971.25" rx="3.4" ry="6.5" fill="#494949"/>
<ellipse cx="317.75" cy="988.95" rx="3.6" ry="6.5" fill="#4a4a4a"/>
<ellipse cx="328.35" cy="988.95" rx="3.4" ry="6.5" fill="#494949"/>
<ellipse cx="317.72" cy="1006.65" rx="3.6" ry="6.5" fill="#4a4a4a"/>
<ellipse cx="328.32" cy="1006.65" rx="3.4" ry="6.5" fill="#494949"/>
<ellipse cx="317.69" cy="1024.35" rx="3.6" ry="6.5" fill="#4a4a4a"/>
<ellipse cx="328.29" cy="1024.35" rx="3.4" ry="6.5" fill="#494949"/>
<ellipse cx="317.66" cy="1042.05" rx="3.6" ry="6.5" fill="#4a4a4a"/>
<ellipse cx="328.26" cy="1042.05" rx="3.4" ry="6.5" fill="#494949"/>
<ellipse cx="317.63" cy="1059.75" rx="3.6" ry="6.5" fill="#4a4a4a"/>
<ellipse cx="328.23" cy="1059.75" rx="3.4" ry="6.5" fill="#494949"/>
<ellipse cx="317.60" cy="1077.45" rx="3.6" ry="6.5" fill="#4a4a4a"/>
<ellipse cx="328.20" cy="1077.45" rx="3.4" ry="6.5" fill="#494949"/>
<ellipse cx="317.57" cy="1095.15" rx="3.6" ry="6.5" fill="#4a4a4a"/>
<ellipse cx="328.17" cy="1095.15" rx="3.4" ry="6.5" fill="#494949"/>
<ellipse cx="317.54" cy="1112.85" rx="3.6" ry="6.5" fill="#4a4a4a"/>
<ellipse cx="328.14" cy="1112.85" rx="3.4" ry="6.5" fill="#494949"/>
<ellipse cx="317.51" cy="1130.55" rx="3.6" ry="6.5" fill="#4a4a4a"/>
<ellipse cx="328.11" cy="1130.55" rx="3.4" ry="6.5" fill="#494949"/>
<ellipse cx="317.48" cy="1148.25" rx="3.6" ry="6.5" fill="#4a4a4a"/>
<ellipse cx="328.08" cy="1148.25" rx="3.4" ry="6.5" fill="#494949"/>
<ellipse cx="317.45" cy="1165.95" rx="3.6" ry="6.5" fill="#4a4a4a"/>
<ellipse cx="328.05" cy="1165.95" rx="3.4" ry="6.5" fill="#494949"/>
<ellipse cx="317.42" cy="1183.65" rx="3.6" ry="6.5" fill="#4a4a4a"/>
<ellipse cx="328.02" cy="1183.65" rx="3.4" ry="6.5" fill="#494949"/>
<ellipse cx="317.39" cy="1201.35" rx="3.6" ry="6.5" fill="#4a4a4a"/>
<ellipse cx="327.99" cy="1201.35" rx="3.4" ry="6.5" fill="#494949"/>
<ellipse cx="317.36" cy="1219.05" rx="3.6" ry="6.5" fill="#4a4a4a"/>
<ellipse cx="327.96" cy="1219.05" rx="3.4" ry="6.5" fill="#494949"/>
<ellipse cx="317.33" cy="1236.75" rx="3.6" ry="6.5" fill="#4a4a4a"/>
<ellipse cx="327.93" cy="1236.75" rx="3.4" ry="6.5" fill="#494949"/>
<ellipse cx="317.31" cy="1254.45" rx="3.6" ry="6.5" fill="#4a4a4a"/>
<ellipse cx="327.91" cy="1254.45" rx="3.4" ry="6.5" fill="#494949"/>
<ellipse cx="317.28" cy="1272.15" rx="3.6" ry="6.5" fill="#4a4a4a"/>
<ellipse cx="327.88" cy="1272.15" rx="3.4" ry="6.5" fill="#494949"/>
<ellipse cx="317.25" cy="1289.85" rx="3.6" ry="6.5" fill="#4a4a4a"/>
<ellipse cx="327.85" cy="1289.85" rx="3.4" ry="6.5" fill="#494949"/>
<ellipse cx="317.22" cy="1307.55" rx="3.6" ry="6.5" fill="#4a4a4a"/>
<ellipse cx="327.82" cy="1307.55" rx="3.4" ry="6.5" fill="#494949"/>
<ellipse cx="317.19" cy="1325.25" rx="3.6" ry="6.5" fill="#4a4a4a"/>
<ellipse cx="327.79" cy="1325.25" rx="3.4" ry="6.5" fill="#494949"/>
<rect x="313.49" y="214.00" width="1.6" height="8" fill="#000"/>
<rect x="330.89" y="216.00" width="1.6" height="8" fill="#000"/>
<rect x="313.46" y="231.70" width="1.6" height="8" fill="#000"/>
<rect x="330.86" y="233.70" width="1.6" height="8" fill="#000"/>
<rect x="313.43" y="249.40" width="1.6" height="8" fill="#000"/>
<rect x="330.83" y="251.40" width="1.6" height="8" fill="#000"/>
<rect x="313.40" y="267.10" width="1.6" height="8" fill="#000"/>
<rect x="330.80" y="269.10" width="1.6" height="8" fill="#000"/>
<rect x="313.37" y="284.80" width="1.6" height="8" fill="#000"/>
<rect x="330.77" y="286.80" width="1.6" height="8" fill="#000"/>
<rect x="313.34" y="302.50" width="1.6" height="8" fill="#000"/>
<rect x="330.74" y="304.50" width="1.6" height="8" fill="#000"/>
<rect x="313.31" y="320.20" width="1.6" height="8" fill="#000"/>
<rect x="330.71" y="322.20" width="1.6" height="8" fill="#000"/>
<rect x="313.28" y="337.90" width="1.6" height="8" fill="#000"/>
<rect x="330.68" y="339.90" width="1.6" height="8" fill="#000"/>
<rect x="313.25" y="355.60" width="1.6" height="8" fill="#000"/>
<rect x="330.65" y="357.60" width="1.6" height="8" fill="#000"/>
<rect x="313.22" y="373.30" width="1.6" height="8" fill="#000"/>
<rect x="330.62" y="375.30" width="1.6" height="8" fill="#000"/>
<rect x="313.19" y="391.00" width="1.6" height="8" fill="#000"/>
<rect x="330.59" y="393.00" width="1.6" height="8" fill="#000"/>
<rect x="313.16" y="408.70" width="1.6" height="8" fill="#000"/>
<rect x="330.56" y="410.70" width="1.6" height="8" fill="#000"/>
<rect x="313.13" y="426.40" width="1.6" height="8" fill="#000"/>
<rect x="330.53" y="428.40" width="1.6" height="8" fill="#000"/>
<rect x="313.10" y="444.10" width="1.6" height="8" fill="#000"/>
<rect x="330.50" y="446.10" width="1.6" height="8" fill="#000"/>
<rect x="313.07" y="461.80" width="1.6" height="8" fill="#000"/>
<rect x="330.47" y="463.80" width="1.6" height="8" fill="#000"/>
<rect x="313.04" y="479.50" width="1.6" height="8" fill="#000"/>
<rect x="330.44" y="481.50" width="1.6" height="8" fill="#000"/>
<rect x="313.01" y="497.20" width="1.6" height="8" fill="#000"/>
<rect x="330.41" y="499.20" width="1.6" height="8" fill="#000"/>
<rect x="312.98" y="514.90" width="1.6" height="8" fill="#000"/>
<rect x="330.38" y="516.90" width="1.6" height="8" fill="#000"/>
<rect x="312.95" y="532.60" width="1.6" height="8" fill="#000"/>
<rect x="330.35" y="534.60" width="1.6" height="8" fill="#000"/>
<rect x="312.92" y="550.30" width="1.6" height="8" fill="#000"/>
<rect x="330.32" y="552.30" width="1.6" height="8" fill="#000"/>
<rect x="312.89" y="568.00" width="1.6" height="8" fill="#000"/>
<rect x="330.29" y="570.00" width="1.6" height="8" fill="#000"/>
<rect x="312.86" y="585.70" width="1.6" height="8" fill="#000"/>
<rect x="330.26" y="587.70" width="1.6" height="8" fill="#000"/>
<rect x="312.83" y="603.40" width="1.6" height="8" fill="#000"/>
<rect x="330.23" y="605.40" width="1.6" height="8" fill="#000"/>
<rect x="312.80" y="621.10" width="1.6" height="8" fill="#000"/>
<rect x="330.20" y="623.10" width="1.6" height="8" fill="#000"/>
<rect x="312.77" y="638.80" width="1.6" height="8" fill="#000"/>
<rect x="330.17" y="640.80" width="1.6" height="8" fill="#000"/>
<rect x="312.74" y="656.50" width="1.6" height="8" fill="#000"/>
<rect x="330.14" y="658.50" width="1.6" height="8" fill="#000"/>
<rect x="312.72" y="674.20" width="1.6" height="8" fill="#000"/>
<rect x="330.12" y="676.20" width="1.6" height="8" fill="#000"/>
<rect x="312.69" y="691.90" width="1.6" height="8" fill="#000"/>
<rect x="330.09" y="693.90" width="1.6" height="8" fill="#000"/>
<rect x="312.66" y="709.60" width="1.6" height="8" fill="#000"/>
<rect x="330.06" y="711.60" width="1.6" height="8" fill="#000"/>
<rect x="312.63" y="727.30" width="1.6" height="8" fill="#000"/>
<rect x="330.03" y="729.30" width="1.6" height="8" fill="#000"/>
<rect x="312.60" y="745.00" width="1.6" height="8" fill="#000"/>
<rect x="330.00" y="747.00" width="1.6" height="8" fill="#000"/>
<rect x="312.57" y="762.70" width="1.6" height="8" fill="#000"/>
<rect x="329.97" y="764.70" width="1.6" height="8" fill="#000"/>
<rect x="312.54" y="780.40" width="1.6" height="8" fill="#000"/>
<rect x="329.94" y="782.40" width="1.6" height="8" fill="#000"/>
<rect x="312.51" y="798.10" width="1.6" height="8" fill="#000"/>
<rect x="329.91" y="800.10" width="1.6" height="8" fill="#000"/>
<rect x="312.48" y="815.80" width="1.6" height="8" fill="#000"/>
<rect x="329.88" y="817.80" width="1.6" height="8" fill="#000"/>
<rect x="312.45" y="833.50" width="1.6" height="8" fill="#000"/>
<rect x="329.85" y="835.50" width="1.6" height="8" fill="#000"/>
<rect x="312.42" y="851.20" width="1.6" height="8" fill="#000"/>
<rect x="329.82" y="853.20" width="1.6" height="8" fill="#000"/>
<rect x="312.39" y="868.90" width="1.6" height="8" fill="#000"/>
<rect x="329.79" y="870.90" width="1.6" height="8" fill="#000"/>
<rect x="312.36" y="886.60" width="1.6" height="8" fill="#000"/>
<rect x="329.76" y="888.60" width="1.6" height="8" fill="#000"/>
<rect x="312.33" y="904.30" width="1.6" height="8" fill="#000"/>
<rect x="329.73" y="906.30" width="1.6" height="8" fill="#000"/>
<rect x="312.30" y="922.00" width="1.6" height="8" fill="#000"/>
<rect x="329.70" y="924.00" width="1.6" height="8" fill="#000"/>
<rect x="312.27" y="939.70" width="1.6" height="8" fill="#000"/>
<rect x="329.67" y="941.70" width="1.6" height="8" fill="#000"/>
<rect x="312.24" y="957.40" width="1.6" height="8" fill="#000"/>
<rect x="329.64" y="959.40" width="1.6" height="8" fill="#000"/>
<rect x="312.21" y="975.10" width="1.6" height="8" fill="#000"/>
<rect x="329.61" y="977.10" width="1.6" height="8" fill="#000"/>
<rect x="312.18" y="992.80" width="1.6" height="8" fill="#000"/>
<rect x="329.58" y="994.80" width="1.6" height="8" fill="#000"/>
<rect x="312.15" y="1010.50" width="1.6" height="8" fill="#000"/>
<rect x="329.55" y="1012.50" width="1.6" height="8" fill="#000"/>
<rect x="312.12" y="1028.20" width="1.6" height="8" fill="#000"/>
<rect x="329.52" y="1030.20" width="1.6" height="8" fill="#000"/>
<rect x="312.09" y="1045.90" width="1.6" height="8" fill="#000"/>
<rect x="329.49" y="1047.90" width="1.6" height="8" fill="#000"/>
<rect x="312.06" y="1063.60" width="1.6" height="8" fill="#000"/>
<rect x="329.46" y="1065.60" width="1.6" height="8" fill="#000"/>
<rect x="312.03" y="1081.30" width="1.6" height="8" fill="#000"/>
<rect x="329.43" y="1083.30" width="1.6" height="8" fill="#000"/>
<rect x="312.00" y="1099.00" width="1.6" height="8" fill="#000"/>
<rect x="329.40" y="1101.00" width="1.6" height="8" fill="#000"/>
<rect x="311.97" y="1116.70" width="1.6" height="8" fill="#000"/>
<rect x="329.37" y="1118.70" width="1.6" height="8" fill="#000"/>
<rect x="311.94" y="1134.40" width="1.6" height="8" fill="#000"/>
<rect x="329.34" y="1136.40" width="1.6" height="8" fill="#000"/>
<rect x="311.91" y="1152.10" width="1.6" height="8" fill="#000"/>
<rect x="329.31" y="1154.10" width="1.6" height="8" fill="#000"/>
<rect x="311.88" y="1169.80" width="1.6" height="8" fill="#000"/>
<rect x="329.28" y="1171.80" width="1.6" height="8" fill="#000"/>
<rect x="311.85" y="1187.50" width="1.6" height="8" fill="#000"/>
<rect x="329.25" y="1189.50" width="1.6" height="8" fill="#000"/>
<rect x="311.82" y="1205.20" width="1.6" height="8" fill="#000"/>
<rect x="329.22" y="1207.20" width="1.6" height="8" fill="#000"/>
<rect x="311.79" y="1222.90" width="1.6" height="8" fill="#000"/>
<rect x="329.19" y="1224.90" width="1.6" height="8" fill="#000"/>
<rect x="311.76" y="1240.60" width="1.6" height="8" fill="#000"/>
<rect x="329.16" y="1242.60" width="1.6" height="8" fill="#000"/>
<rect x="311.73" y="1258.30" width="1.6" height="8" fill="#000"/>
<rect x="329.13" y="1260.30" width="1.6" height="8" fill="#000"/>
<rect x="311.70" y="1276.00" width="1.6" height="8" fill="#000"/>
<rect x="329.10" y="1278.00" width="1.6" height="8" fill="#000"/>
<rect x="311.67" y="1293.70" width="1.6" height="8" fill="#000"/>
<rect x="329.07" y="1295.70" width="1.6" height="8" fill="#000"/>
<rect x="311.64" y="1311.40" width="1.6" height="8" fill="#000"/>
<rect x="329.04" y="1313.40" width="1.6" height="8" fill="#000"/>
<rect x="311.61" y="1329.10" width="1.6" height="8" fill="#000"/>
<rect x="329.01" y="1331.10" width="1.6" height="8" fill="#000"/>
<ellipse cx="312.27" cy="225.50" rx="1.0" ry="4.8" fill="#000"/>
<ellipse cx="333.57" cy="234.00" rx="1.0" ry="4.8" fill="#000"/>
<ellipse cx="312.25" cy="243.20" rx="1.0" ry="4.8" fill="#000"/>
<ellipse cx="333.55" cy="251.70" rx="1.0" ry="4.8" fill="#000"/>
<ellipse cx="312.22" cy="260.90" rx="1.0" ry="4.8" fill="#000"/>
<ellipse cx="333.52" cy="269.40" rx="1.0" ry="4.8" fill="#000"/>
<ellipse cx="312.19" cy="278.60" rx="1.0" ry="4.8" fill="#000"/>
<ellipse cx="333.49" cy="287.10" rx="1.0" ry="4.8" fill="#000"/>
<ellipse cx="312.16" cy="296.30" rx="1.0" ry="4.8" fill="#000"/>
<ellipse cx="333.46" cy="304.80" rx="1.0" ry="4.8" fill="#000"/>
<ellipse cx="312.13" cy="314.00" rx="1.0" ry="4.8" fill="#000"/>
<ellipse cx="333.43" cy="322.50" rx="1.0" ry="4.8" fill="#000"/>
<ellipse cx="312.10" cy="331.70" rx="1.0" ry="4.8" fill="#000"/>
<ellipse cx="333.40" cy="340.20" rx="1.0" ry="4.8" fill="#000"/>
<ellipse cx="312.07" cy="349.40" rx="1.0" ry="4.8" fill="#000"/>
<ellipse cx="333.37" cy="357.90" rx="1.0" ry="4.8" fill="#000"/>
<ellipse cx="312.04" cy="367.10" rx="1.0" ry="4.8" fill="#000"/>
<ellipse cx="333.34" cy="375.60" rx="1.0" ry="4.8" fill="#000"/>
<ellipse cx="312.01" cy="384.80" rx="1.0" ry="4.8" fill="#000"/>
<ellipse cx="333.31" cy="393.30" rx="1.0" ry="4.8" fill="#000"/>
<ellipse cx="311.98" cy="402.50" rx="1.0" ry="4.8" fill="#000"/>
<ellipse cx="333.28" cy="411.00" rx="1.0" ry="4.8" fill="#000"/>
<ellipse cx="311.95" cy="420.20" rx="1.0" ry="4.8" fill="#000"/>
<ellipse cx="333.25" cy="428.70" rx="1.0" ry="4.8" fill="#000"/>
<ellipse cx="311.92" cy="437.90" rx="1.0" ry="4.8" fill="#000"/>
<ellipse cx="333.22" cy="446.40" rx="1.0" ry="4.8" fill="#000"/>
<ellipse cx="311.89" cy="455.60" rx="1.0" ry="4.8" fill="#000"/>
<ellipse cx="333.19" cy="464.10" rx="1.0" ry="4.8" fill="#000"/>
<ellipse cx="311.86" cy="473.30" rx="1.0" ry="4.8" fill="#000"/>
<ellipse cx="333.16" cy="481.80" rx="1.0" ry="4.8" fill="#000"/>
<ellipse cx="311.83" cy="491.00" rx="1.0" ry="4.8" fill="#000"/>
<ellipse cx="333.13" cy="499.50" rx="1.0" ry="4.8" fill="#000"/>
<ellipse cx="311.80" cy="508.70" rx="1.0" ry="4.8" fill="#000"/>
<ellipse cx="333.10" cy="517.20" rx="1.0" ry="4.8" fill="#000"/>
<ellipse cx="311.77" cy="526.40" rx="1.0" ry="4.8" fill="#000"/>
<ellipse cx="333.07" cy="534.90" rx="1.0" ry="4.8" fill="#000"/>
<ellipse cx="311.74" cy="544.10" rx="1.0" ry="4.8" fill="#000"/>
<ellipse cx="333.04" cy="552.60" rx="1.0" ry="4.8" fill="#000"/>
<ellipse cx="311.71" cy="561.80" rx="1.0" ry="4.8" fill="#000"/>
<ellipse cx="333.01" cy="570.30" rx="1.0" ry="4.8" fill="#000"/>
<ellipse cx="311.68" cy="579.50" rx="1.0" ry="4.8" fill="#000"/>
<ellipse cx="332.98" cy="588.00" rx="1.0" ry="4.8" fill="#000"/>
<ellipse cx="311.65" cy="597.20" rx="1.0" ry="4.8" fill="#000"/>
<ellipse cx="332.95" cy="605.70" rx="1.0" ry="4.8" fill="#000"/>
<ellipse cx="311.62" cy="614.90" rx="1.0" ry="4.8" fill="#000"/>
<ellipse cx="332.92" cy="623.40" rx="1.0" ry="4.8" fill="#000"/>
<ellipse cx="311.59" cy="632.60" rx="1.0" ry="4.8" fill="#000"/>
<ellipse cx="332.89" cy="641.10" rx="1.0" ry="4.8" fill="#000"/>
<ellipse cx="311.56" cy="650.30" rx="1.0" ry="4.8" fill="#000"/>
<ellipse cx="332.86" cy="658.80" rx="1.0" ry="4.8" fill="#000"/>
<ellipse cx="311.53" cy="668.00" rx="1.0" ry="4.8" fill="#000"/>
<ellipse cx="332.83" cy="676.50" rx="1.0" ry="4.8" fill="#000"/>
<ellipse cx="311.50" cy="685.70" rx="1.0" ry="4.8" fill="#000"/>
<ellipse cx="332.80" cy="694.20" rx="1.0" ry="4.8" fill="#000"/>
<ellipse cx="311.47" cy="703.40" rx="1.0" ry="4.8" fill="#000"/>
<ellipse cx="332.77" cy="711.90" rx="1.0" ry="4.8" fill="#000"/>
<ellipse cx="311.44" cy="721.10" rx="1.0" ry="4.8" fill="#000"/>
<ellipse cx="332.74" cy="729.60" rx="1.0" ry="4.8" fill="#000"/>
<ellipse cx="311.41" cy="738.80" rx="1.0" ry="4.8" fill="#000"/>
<ellipse cx="332.71" cy="747.30" rx="1.0" ry="4.8" fill="#000"/>
<ellipse cx="311.38" cy="756.50" rx="1.0" ry="4.8" fill="#000"/>
<ellipse cx="332.68" cy="765.00" rx="1.0" ry="4.8" fill="#000"/>
<ellipse cx="311.35" cy="774.20" rx="1.0" ry="4.8" fill="#000"/>
<ellipse cx="332.65" cy="782.70" rx="1.0" ry="4.8" fill="#000"/>
<ellipse cx="311.32" cy="791.90" rx="1.0" ry="4.8" fill="#000"/>
<ellipse cx="332.62" cy="800.40" rx="1.0" ry="4.8" fill="#000"/>
<ellipse cx="311.29" cy="809.60" rx="1.0" ry="4.8" fill="#000"/>
<ellipse cx="332.59" cy="818.10" rx="1.0" ry="4.8" fill="#000"/>
<ellipse cx="311.26" cy="827.30" rx="1.0" ry="4.8" fill="#000"/>
<ellipse cx="332.56" cy="835.80" rx="1.0" ry="4.8" fill="#000"/>
<ellipse cx="311.23" cy="845.00" rx="1.0" ry="4.8" fill="#000"/>
<ellipse cx="332.53" cy="853.50" rx="1.0" ry="4.8" fill="#000"/>
<ellipse cx="311.20" cy="862.70" rx="1.0" ry="4.8" fill="#000"/>
<ellipse cx="332.50" cy="871.20" rx="1.0" ry="4.8" fill="#000"/>
<ellipse cx="311.17" cy="880.40" rx="1.0" ry="4.8" fill="#000"/>
<ellipse cx="332.47" cy="888.90" rx="1.0" ry="4.8" fill="#000"/>
<ellipse cx="311.14" cy="898.10" rx="1.0" ry="4.8" fill="#000"/>
<ellipse cx="332.44" cy="906.60" rx="1.0" ry="4.8" fill="#000"/>
<ellipse cx="311.12" cy="915.80" rx="1.0" ry="4.8" fill="#000"/>
<ellipse cx="332.42" cy="924.30" rx="1.0" ry="4.8" fill="#000"/>
<ellipse cx="311.09" cy="933.50" rx="1.0" ry="4.8" fill="#000"/>
<ellipse cx="332.39" cy="942.00" rx="1.0" ry="4.8" fill="#000"/>
<ellipse cx="311.06" cy="951.20" rx="1.0" ry="4.8" fill="#000"/>
<ellipse cx="332.36" cy="959.70" rx="1.0" ry="4.8" fill="#000"/>
<ellipse cx="311.03" cy="968.90" rx="1.0" ry="4.8" fill="#000"/>
<ellipse cx="332.33" cy="977.40" rx="1.0" ry="4.8" fill="#000"/>
<ellipse cx="311.00" cy="986.60" rx="1.0" ry="4.8" fill="#000"/>
<ellipse cx="332.30" cy="995.10" rx="1.0" ry="4.8" fill="#000"/>
<ellipse cx="310.97" cy="1004.30" rx="1.0" ry="4.8" fill="#000"/>
<ellipse cx="332.27" cy="1012.80" rx="1.0" ry="4.8" fill="#000"/>
<ellipse cx="310.94" cy="1022.00" rx="1.0" ry="4.8" fill="#000"/>
<ellipse cx="332.24" cy="1030.50" rx="1.0" ry="4.8" fill="#000"/>
<ellipse cx="310.91" cy="1039.70" rx="1.0" ry="4.8" fill="#000"/>
<ellipse cx="332.21" cy="1048.20" rx="1.0" ry="4.8" fill="#000"/>
<ellipse cx="310.88" cy="1057.40" rx="1.0" ry="4.8" fill="#000"/>
<ellipse cx="332.18" cy="1065.90" rx="1.0" ry="4.8" fill="#000"/>
<ellipse cx="310.85" cy="1075.10" rx="1.0" ry="4.8" fill="#000"/>
<ellipse cx="332.15" cy="1083.60" rx="1.0" ry="4.8" fill="#000"/>
<ellipse cx="310.82" cy="1092.80" rx="1.0" ry="4.8" fill="#000"/>
<ellipse cx="332.12" cy="1101.30" rx="1.0" ry="4.8" fill="#000"/>
<ellipse cx="310.79" cy="1110.50" rx="1.0" ry="4.8" fill="#000"/>
<ellipse cx="332.09" cy="1119.00" rx="1.0" ry="4.8" fill="#000"/>
<ellipse cx="310.76" cy="1128.20" rx="1.0" ry="4.8" fill="#000"/>
<ellipse cx="332.06" cy="1136.70" rx="1.0" ry="4.8" fill="#000"/>
<ellipse cx="310.73" cy="1145.90" rx="1.0" ry="4.8" fill="#000"/>
<ellipse cx="332.03" cy="1154.40" rx="1.0" ry="4.8" fill="#000"/>
<ellipse cx="310.70" cy="1163.60" rx="1.0" ry="4.8" fill="#000"/>
<ellipse cx="332.00" cy="1172.10" rx="1.0" ry="4.8" fill="#000"/>
<ellipse cx="310.67" cy="1181.30" rx="1.0" ry="4.8" fill="#000"/>
<ellipse cx="331.97" cy="1189.80" rx="1.0" ry="4.8" fill="#000"/>
<ellipse cx="310.64" cy="1199.00" rx="1.0" ry="4.8" fill="#000"/>
<ellipse cx="331.94" cy="1207.50" rx="1.0" ry="4.8" fill="#000"/>
<ellipse cx="310.61" cy="1216.70" rx="1.0" ry="4.8" fill="#000"/>
<ellipse cx="331.91" cy="1225.20" rx="1.0" ry="4.8" fill="#000"/>
<ellipse cx="310.58" cy="1234.40" rx="1.0" ry="4.8" fill="#000"/>
<ellipse cx="331.88" cy="1242.90" rx="1.0" ry="4.8" fill="#000"/>
<ellipse cx="310.55" cy="1252.10" rx="1.0" ry="4.8" fill="#000"/>
<ellipse cx="331.85" cy="1260.60" rx="1.0" ry="4.8" fill="#000"/>
<ellipse cx="310.52" cy="1269.80" rx="1.0" ry="4.8" fill="#000"/>
<ellipse cx="331.82" cy="1278.30" rx="1.0" ry="4.8" fill="#000"/>
<ellipse cx="310.49" cy="1287.50" rx="1.0" ry="4.8" fill="#000"/>
<ellipse cx="331.79" cy="1296.00" rx="1.0" ry="4.8" fill="#000"/>
<ellipse cx="310.46" cy="1305.20" rx="1.0" ry="4.8" fill="#000"/>
<ellipse cx="331.76" cy="1313.70" rx="1.0" ry="4.8" fill="#000"/>
<ellipse cx="310.43" cy="1322.90" rx="1.0" ry="4.8" fill="#000"/>
<ellipse cx="331.73" cy="1331.40" rx="1.0" ry="4.8" fill="#000"/>
<line x1="324.33824000000004" y1="214" x2="322.44992" y2="1338.0" stroke="#000" stroke-width="2"/>
<path d="M316.0,209.0 L324.33824000000004,216 L330.0,209.0 Z" fill="#262626"/>
<ellipse cx="324.31" cy="232.30" rx="2.6" ry="5.0" fill="#000"/>
<ellipse cx="324.31" cy="232.30" rx="0.45" ry="0.9" fill="#555"/>
<ellipse cx="324.28" cy="250.00" rx="2.6" ry="5.0" fill="#000"/>
<ellipse cx="324.28" cy="250.00" rx="0.45" ry="0.9" fill="#555"/>
<ellipse cx="324.25" cy="267.70" rx="2.6" ry="5.0" fill="#000"/>
<ellipse cx="324.25" cy="267.70" rx="0.45" ry="0.9" fill="#555"/>
<ellipse cx="324.22" cy="285.40" rx="2.6" ry="5.0" fill="#000"/>
<ellipse cx="324.22" cy="285.40" rx="0.45" ry="0.9" fill="#555"/>
<ellipse cx="324.19" cy="303.10" rx="2.6" ry="5.0" fill="#000"/>
<ellipse cx="324.19" cy="303.10" rx="0.45" ry="0.9" fill="#555"/>
<ellipse cx="324.16" cy="320.80" rx="2.6" ry="5.0" fill="#000"/>
<ellipse cx="324.16" cy="320.80" rx="0.45" ry="0.9" fill="#555"/>
<ellipse cx="324.13" cy="338.50" rx="2.6" ry="5.0" fill="#000"/>
<ellipse cx="324.13" cy="338.50" rx="0.45" ry="0.9" fill="#555"/>
<ellipse cx="324.10" cy="356.20" rx="2.6" ry="5.0" fill="#000"/>
<ellipse cx="324.10" cy="356.20" rx="0.45" ry="0.9" fill="#555"/>
<ellipse cx="324.07" cy="373.90" rx="2.6" ry="5.0" fill="#000"/>
<ellipse cx="324.07" cy="373.90" rx="0.45" ry="0.9" fill="#555"/>
<ellipse cx="324.04" cy="391.60" rx="2.6" ry="5.0" fill="#000"/>
<ellipse cx="324.04" cy="391.60" rx="0.45" ry="0.9" fill="#555"/>
<ellipse cx="324.01" cy="409.30" rx="2.6" ry="5.0" fill="#000"/>
<ellipse cx="324.01" cy="409.30" rx="0.45" ry="0.9" fill="#555"/>
<ellipse cx="323.71" cy="586.30" rx="2.6" ry="5.0" fill="#000"/>
<ellipse cx="323.71" cy="586.30" rx="0.45" ry="0.9" fill="#555"/>
<ellipse cx="323.68" cy="604.00" rx="2.6" ry="5.0" fill="#000"/>
<ellipse cx="323.68" cy="604.00" rx="0.45" ry="0.9" fill="#555"/>
<ellipse cx="323.65" cy="621.70" rx="2.6" ry="5.0" fill="#000"/>
<ellipse cx="323.65" cy="621.70" rx="0.45" ry="0.9" fill="#555"/>
<ellipse cx="323.62" cy="639.40" rx="2.6" ry="5.0" fill="#000"/>
<ellipse cx="323.62" cy="639.40" rx="0.45" ry="0.9" fill="#555"/>
<ellipse cx="323.59" cy="657.10" rx="2.6" ry="5.0" fill="#000"/>
<ellipse cx="323.59" cy="657.10" rx="0.45" ry="0.9" fill="#555"/>
<ellipse cx="323.56" cy="674.80" rx="2.6" ry="5.0" fill="#000"/>
<ellipse cx="323.56" cy="674.80" rx="0.45" ry="0.9" fill="#555"/>
<ellipse cx="323.53" cy="692.50" rx="2.6" ry="5.0" fill="#000"/>
<ellipse cx="323.53" cy="692.50" rx="0.45" ry="0.9" fill="#555"/>
<ellipse cx="323.50" cy="710.20" rx="2.6" ry="5.0" fill="#000"/>
<ellipse cx="323.50" cy="710.20" rx="0.45" ry="0.9" fill="#555"/>
<ellipse cx="323.47" cy="727.90" rx="2.6" ry="5.0" fill="#000"/>
<ellipse cx="323.47" cy="727.90" rx="0.45" ry="0.9" fill="#555"/>
<ellipse cx="323.45" cy="745.60" rx="2.6" ry="5.0" fill="#000"/>
<ellipse cx="323.45" cy="745.60" rx="0.45" ry="0.9" fill="#555"/>
<ellipse cx="323.15" cy="922.60" rx="2.6" ry="5.0" fill="#000"/>
<ellipse cx="323.15" cy="922.60" rx="0.45" ry="0.9" fill="#555"/>
<ellipse cx="323.12" cy="940.30" rx="2.6" ry="5.0" fill="#000"/>
<ellipse cx="323.12" cy="940.30" rx="0.45" ry="0.9" fill="#555"/>
<ellipse cx="323.09" cy="958.00" rx="2.6" ry="5.0" fill="#000"/>
<ellipse cx="323.09" cy="958.00" rx="0.45" ry="0.9" fill="#555"/>
<ellipse cx="323.06" cy="975.70" rx="2.6" ry="5.0" fill="#000"/>
<ellipse cx="323.06" cy="975.70" rx="0.45" ry="0.9" fill="#555"/>
<ellipse cx="323.03" cy="993.40" rx="2.6" ry="5.0" fill="#000"/>
<ellipse cx="323.03" cy="993.40" rx="0.45" ry="0.9" fill="#555"/>
<ellipse cx="323.00" cy="1011.10" rx="2.6" ry="5.0" fill="#000"/>
<ellipse cx="323.00" cy="1011.10" rx="0.45" ry="0.9" fill="#555"/>
<ellipse cx="322.97" cy="1028.80" rx="2.6" ry="5.0" fill="#000"/>
<ellipse cx="322.97" cy="1028.80" rx="0.45" ry="0.9" fill="#555"/>
<ellipse cx="322.94" cy="1046.50" rx="2.6" ry="5.0" fill="#000"/>
<ellipse cx="322.94" cy="1046.50" rx="0.45" ry="0.9" fill="#555"/>
<ellipse cx="322.91" cy="1064.20" rx="2.6" ry="5.0" fill="#000"/>
<ellipse cx="322.91" cy="1064.20" rx="0.45" ry="0.9" fill="#555"/>
<ellipse cx="322.88" cy="1081.90" rx="2.6" ry="5.0" fill="#000"/>
<ellipse cx="322.88" cy="1081.90" rx="0.45" ry="0.9" fill="#555"/>
<ellipse cx="322.85" cy="1099.60" rx="2.6" ry="5.0" fill="#000"/>
<ellipse cx="322.85" cy="1099.60" rx="0.45" ry="0.9" fill="#555"/>
<ellipse cx="322.82" cy="1117.30" rx="2.6" ry="5.0" fill="#000"/>
<ellipse cx="322.82" cy="1117.30" rx="0.45" ry="0.9" fill="#555"/>
<ellipse cx="322.79" cy="1135.00" rx="2.6" ry="5.0" fill="#000"/>
<ellipse cx="322.79" cy="1135.00" rx="0.45" ry="0.9" fill="#555"/>
<ellipse cx="322.76" cy="1152.70" rx="2.6" ry="5.0" fill="#000"/>
<ellipse cx="322.76" cy="1152.70" rx="0.45" ry="0.9" fill="#555"/>
<ellipse cx="322.73" cy="1170.40" rx="2.6" ry="5.0" fill="#000"/>
<ellipse cx="322.73" cy="1170.40" rx="0.45" ry="0.9" fill="#555"/>
<ellipse cx="322.70" cy="1188.10" rx="2.6" ry="5.0" fill="#000"/>
<ellipse cx="322.70" cy="1188.10" rx="0.45" ry="0.9" fill="#555"/>
<ellipse cx="322.67" cy="1205.80" rx="2.6" ry="5.0" fill="#000"/>
<ellipse cx="322.67" cy="1205.80" rx="0.45" ry="0.9" fill="#555"/>
<ellipse cx="322.64" cy="1223.50" rx="2.6" ry="5.0" fill="#000"/>
<ellipse cx="322.64" cy="1223.50" rx="0.45" ry="0.9" fill="#555"/>
<ellipse cx="322.61" cy="1241.20" rx="2.6" ry="5.0" fill="#000"/>
<ellipse cx="322.61" cy="1241.20" rx="0.45" ry="0.9" fill="#555"/>
<ellipse cx="322.58" cy="1258.90" rx="2.6" ry="5.0" fill="#000"/>
<ellipse cx="322.58" cy="1258.90" rx="0.45" ry="0.9" fill="#555"/>
<ellipse cx="322.55" cy="1276.60" rx="2.6" ry="5.0" fill="#000"/>
<ellipse cx="322.55" cy="1276.60" rx="0.45" ry="0.9" fill="#555"/>
<ellipse cx="322.52" cy="1294.30" rx="2.6" ry="5.0" fill="#000"/>
<ellipse cx="322.52" cy="1294.30" rx="0.45" ry="0.9" fill="#555"/>
<ellipse cx="322.49" cy="1312.00" rx="2.6" ry="5.0" fill="#000"/>
<ellipse cx="322.49" cy="1312.00" rx="0.45" ry="0.9" fill="#555"/>
<ellipse cx="322.46" cy="1329.70" rx="2.6" ry="5.0" fill="#000"/>
<ellipse cx="322.46" cy="1329.70" rx="0.45" ry="0.9" fill="#555"/>
<g>
<circle cx="307.0" cy="420.5" r="8.5" fill="#000"/>
<circle cx="338.20000000000005" cy="420.5" r="8.5" fill="#000"/>
<rect x="307.0" y="412.0" width="31.2" height="17" fill="#000"/>
<ellipse cx="341.8" cy="420.5" rx="4.9" ry="7.4" fill="url(#cylg)"/>
<path d="M312.1,411.5 L325.1,411.5 L318.20000000000005,423.5 Z" fill="#464646"/>
<path d="M305.1,422.5 C300.6,421.0 301.6,413.8 307.6,413.6 C313.1,413.5 316.1,419.0 318.20000000000005,423.5 C320.1,418.0 324.6,413.2 330.6,413.5 C335.6,414.0 337.6,419.0 335.6,424.0 C333.6,427.5 328.6,427.0 328.1,423.0" fill="none" stroke="#5e5e5e" stroke-width="1.3"/>
<circle cx="306.8" cy="421.0" r="2.5" fill="#4c4c4c"/>
<circle cx="330.20000000000005" cy="420.5" r="2.9" fill="#474747"/>
<rect x="310.8" y="428.5" width="23.6" height="9.2" fill="#000"/>
<path d="M316.6,437.5 L318.20000000000005,425.0 L320.20000000000005,437.5" fill="none" stroke="#484848" stroke-width="1.3"/>
<rect x="330.8" y="435.5" width="1.2" height="1.2" fill="#aaa"/>
</g>
<g transform="translate(0,982.0) scale(1,-1)">
<circle cx="307.0" cy="420.5" r="8.5" fill="#000"/>
<circle cx="338.20000000000005" cy="420.5" r="8.5" fill="#000"/>
<rect x="307.0" y="412.0" width="31.2" height="17" fill="#000"/>
<ellipse cx="341.8" cy="420.5" rx="4.9" ry="7.4" fill="url(#cylg)"/>
<path d="M312.1,411.5 L325.1,411.5 L318.20000000000005,423.5 Z" fill="#464646"/>
<path d="M305.1,422.5 C300.6,421.0 301.6,413.8 307.6,413.6 C313.1,413.5 316.1,419.0 318.20000000000005,423.5 C320.1,418.0 324.6,413.2 330.6,413.5 C335.6,414.0 337.6,419.0 335.6,424.0 C333.6,427.5 328.6,427.0 328.1,423.0" fill="none" stroke="#5e5e5e" stroke-width="1.3"/>
<circle cx="306.8" cy="421.0" r="2.5" fill="#4c4c4c"/>
<circle cx="330.20000000000005" cy="420.5" r="2.9" fill="#474747"/>
<rect x="310.8" y="428.5" width="23.6" height="9.2" fill="#000"/>
<path d="M316.6,437.5 L318.20000000000005,425.0 L320.20000000000005,437.5" fill="none" stroke="#484848" stroke-width="1.3"/>
<rect x="330.8" y="435.5" width="1.2" height="1.2" fill="#aaa"/>
</g>
<rect x="309.20000000000005" y="437.2" width="26.8" height="15.199999999999989" fill="#000"/>
<rect x="310.90000000000003" y="439.40" width="23.2" height="3.6" fill="#555"/>
<rect x="324.70000000000005" y="439.40" width="1.6" height="3.6" fill="#eee"/>
<rect x="310.90000000000003" y="446.60" width="23.2" height="3.6" fill="#555"/>
<rect x="324.70000000000005" y="446.60" width="1.6" height="3.6" fill="#eee"/>
<rect x="309.20000000000005" y="529.6" width="26.8" height="15.199999999999932" fill="#000"/>
<rect x="310.90000000000003" y="531.60" width="23.2" height="3.6" fill="#555"/>
<rect x="324.70000000000005" y="531.60" width="1.6" height="3.6" fill="#eee"/>
<rect x="310.90000000000003" y="538.80" width="23.2" height="3.6" fill="#555"/>
<rect x="324.70000000000005" y="538.80" width="1.6" height="3.6" fill="#eee"/>
<path d="M309.20000000000005,452.2 L309.20000000000005,457.2 L294.8,491.0 L309.20000000000005,524.8 L309.20000000000005,529.8 L335.8,529.8 L335.8,524.8 L350.6,491.0 L335.8,457.2 L335.8,452.2 Z" fill="#000"/>
<path d="M339.0,474.0 L341.40000000000003,474.0 L348.20000000000005,491.0 L339.0,512.0 Z" fill="#3a3a3a"/>
<path d="M339.20000000000005,491.5 L347.6,491.5" stroke="#111" stroke-width="1.2"/>
<path d="M310.8,458.2 L298.3,491.0 L310.8,523.8" fill="none" stroke="#5a5a5a" stroke-width="1"/>
<path d="M328.6,455.2 L337.20000000000005,491.0 L328.6,526.8" fill="none" stroke="#5a5a5a" stroke-width="0.9"/>
<path d="M316.40000000000003,453.7 L305.5,491.0 L316.40000000000003,528.3" fill="none" stroke="#565656" stroke-width="4"/>
<path d="M325.20000000000005,455.2 L330.20000000000005,491.0 L325.20000000000005,526.8" fill="none" stroke="#565656" stroke-width="4"/>
<path d="M320.6,468.2 L312.1,491.0 L320.6,515.8 L327.1,491.0 Z" fill="#222"/>
<path d="M318.1,471.2 L313.6,490.0 L320.6,490.0 Z" fill="#3a3a3a"/>
<path d="M314.6,493.0 L320.6,493.0 L320.1,512.8 Z" fill="#3e3e3e"/>
<path d="M323.20000000000005,486.0 L325.1,490.5 L323.20000000000005,495.5 L321.3,490.5 Z" fill="#fff"/>
<g>
<circle cx="306.29999999999995" cy="759.5" r="8.5" fill="#000"/>
<circle cx="337.5" cy="759.5" r="8.5" fill="#000"/>
<rect x="306.29999999999995" y="751.0" width="31.2" height="17" fill="#000"/>
<ellipse cx="341.09999999999997" cy="759.5" rx="4.9" ry="7.4" fill="url(#cylg)"/>
<path d="M311.4,750.5 L324.4,750.5 L317.5,762.5 Z" fill="#464646"/>
<path d="M304.4,761.5 C299.9,760.0 300.9,752.8 306.9,752.6 C312.4,752.5 315.4,758.0 317.5,762.5 C319.4,757.0 323.9,752.2 329.9,752.5 C334.9,753.0 336.9,758.0 334.9,763.0 C332.9,766.5 327.9,766.0 327.4,762.0" fill="none" stroke="#5e5e5e" stroke-width="1.3"/>
<circle cx="306.09999999999997" cy="760.0" r="2.5" fill="#4c4c4c"/>
<circle cx="329.5" cy="759.5" r="2.9" fill="#474747"/>
<rect x="310.09999999999997" y="767.5" width="23.6" height="9.2" fill="#000"/>
<path d="M315.9,776.5 L317.5,764.0 L319.5,776.5" fill="none" stroke="#484848" stroke-width="1.3"/>
<rect x="330.09999999999997" y="774.5" width="1.2" height="1.2" fill="#aaa"/>
</g>
<g transform="translate(0,1660.0) scale(1,-1)">
<circle cx="306.29999999999995" cy="759.5" r="8.5" fill="#000"/>
<circle cx="337.5" cy="759.5" r="8.5" fill="#000"/>
<rect x="306.29999999999995" y="751.0" width="31.2" height="17" fill="#000"/>
<ellipse cx="341.09999999999997" cy="759.5" rx="4.9" ry="7.4" fill="url(#cylg)"/>
<path d="M311.4,750.5 L324.4,750.5 L317.5,762.5 Z" fill="#464646"/>
<path d="M304.4,761.5 C299.9,760.0 300.9,752.8 306.9,752.6 C312.4,752.5 315.4,758.0 317.5,762.5 C319.4,757.0 323.9,752.2 329.9,752.5 C334.9,753.0 336.9,758.0 334.9,763.0 C332.9,766.5 327.9,766.0 327.4,762.0" fill="none" stroke="#5e5e5e" stroke-width="1.3"/>
<circle cx="306.09999999999997" cy="760.0" r="2.5" fill="#4c4c4c"/>
<circle cx="329.5" cy="759.5" r="2.9" fill="#474747"/>
<rect x="310.09999999999997" y="767.5" width="23.6" height="9.2" fill="#000"/>
<path d="M315.9,776.5 L317.5,764.0 L319.5,776.5" fill="none" stroke="#484848" stroke-width="1.3"/>
<rect x="330.09999999999997" y="774.5" width="1.2" height="1.2" fill="#aaa"/>
</g>
<rect x="308.5" y="776.2" width="26.8" height="15.199999999999932" fill="#000"/>
<rect x="310.2" y="778.40" width="23.2" height="3.6" fill="#555"/>
<rect x="324.0" y="778.40" width="1.6" height="3.6" fill="#eee"/>
<rect x="310.2" y="785.60" width="23.2" height="3.6" fill="#555"/>
<rect x="324.0" y="785.60" width="1.6" height="3.6" fill="#eee"/>
<rect x="308.5" y="868.6" width="26.8" height="15.199999999999932" fill="#000"/>
<rect x="310.2" y="870.60" width="23.2" height="3.6" fill="#555"/>
<rect x="324.0" y="870.60" width="1.6" height="3.6" fill="#eee"/>
<rect x="310.2" y="877.80" width="23.2" height="3.6" fill="#555"/>
<rect x="324.0" y="877.80" width="1.6" height="3.6" fill="#eee"/>
<path d="M308.5,791.2 L308.5,796.2 L294.09999999999997,830.0 L308.5,863.8 L308.5,868.8 L335.09999999999997,868.8 L335.09999999999997,863.8 L349.9,830.0 L335.09999999999997,796.2 L335.09999999999997,791.2 Z" fill="#000"/>
<path d="M338.29999999999995,813.0 L340.7,813.0 L347.5,830.0 L338.29999999999995,851.0 Z" fill="#3a3a3a"/>
<path d="M338.5,830.5 L346.9,830.5" stroke="#111" stroke-width="1.2"/>
<path d="M310.09999999999997,797.2 L297.59999999999997,830.0 L310.09999999999997,862.8" fill="none" stroke="#5a5a5a" stroke-width="1"/>
<path d="M327.9,794.2 L336.5,830.0 L327.9,865.8" fill="none" stroke="#5a5a5a" stroke-width="0.9"/>
<path d="M315.7,792.7 L304.79999999999995,830.0 L315.7,867.3" fill="none" stroke="#565656" stroke-width="4"/>
<path d="M324.5,794.2 L329.5,830.0 L324.5,865.8" fill="none" stroke="#565656" stroke-width="4"/>
<path d="M319.9,807.2 L311.4,830.0 L319.9,854.8 L326.4,830.0 Z" fill="#222"/>
<path d="M317.4,810.2 L312.9,829.0 L319.9,829.0 Z" fill="#3a3a3a"/>
<path d="M313.9,832.0 L319.9,832.0 L319.4,851.8 Z" fill="#3e3e3e"/>
<path d="M322.5,825.0 L324.4,829.5 L322.5,834.5 L320.59999999999997,829.5 Z" fill="#fff"/>
<text x="841.81" y="59.80" font-size="16.69" font-weight="normal" fill="#4d4d4d" textLength="81.29" lengthAdjust="spacingAndGlyphs" >REVISIONS</text>
<text x="565.86" y="80.20" font-size="17.27" font-weight="normal" fill="#4d4d4d" textLength="36.43" lengthAdjust="spacingAndGlyphs" >REV.</text>
<text x="730.68" y="79.80" font-size="16.69" font-weight="normal" fill="#4d4d4d" textLength="104.48" lengthAdjust="spacingAndGlyphs" >DESCRIPTION</text>
<text x="994.39" y="80.00" font-size="17.55" font-weight="normal" fill="#4d4d4d" textLength="41.57" lengthAdjust="spacingAndGlyphs" >DATE</text>
<text x="1103.67" y="80.00" font-size="17.55" font-weight="normal" fill="#4d4d4d" textLength="87.71" lengthAdjust="spacingAndGlyphs" >REVISED BY</text>
<text x="579.20" y="115.20" font-size="16.83" font-weight="normal" fill="#4d4d4d" textLength="10.11" lengthAdjust="spacingAndGlyphs" >A</text>
<text x="529.34" y="1451.00" font-size="21.29" font-weight="normal" fill="#000" textLength="148.50" lengthAdjust="spacingAndGlyphs" >DESCRIPTION:</text>
<text x="712.03" y="1456.60" font-size="28.35" font-weight="normal" fill="#000" textLength="448.34" lengthAdjust="spacingAndGlyphs" >M13444 (Double Window Iron Bal)</text>
<text x="530.43" y="1495.00" font-size="20.29" font-weight="normal" fill="#000" textLength="94.28" lengthAdjust="spacingAndGlyphs" >Drawn by:</text>
<text x="639.19" y="1508.00" font-size="28.78" font-weight="normal" fill="#000" textLength="122.31" lengthAdjust="spacingAndGlyphs" >RSAGRE</text>
<text x="788.57" y="1495.50" font-size="21.87" font-weight="normal" fill="#000" textLength="74.90" lengthAdjust="spacingAndGlyphs" >DWG #:</text>
<text x="890.81" y="1507.50" font-size="28.92" font-weight="normal" fill="#000" textLength="93.49" lengthAdjust="spacingAndGlyphs" >C-2761</text>
<text x="524.24" y="1546.80" font-size="20.43" font-weight="normal" fill="#000" textLength="153.24" lengthAdjust="spacingAndGlyphs" >Date: 04/20/2023</text>
<text x="528.77" y="1568.60" font-size="21.29" font-weight="normal" fill="#000" textLength="179.59" lengthAdjust="spacingAndGlyphs" >Created: 04/20/2023</text>
<text x="786.73" y="1550.40" font-size="19.86" font-weight="normal" fill="#000" textLength="75.14" lengthAdjust="spacingAndGlyphs" >Material:</text>
<text x="884.67" y="1558.30" font-size="24.89" font-weight="normal" fill="#000" textLength="45.62" lengthAdjust="spacingAndGlyphs" >Iron</text>
<text x="1015.05" y="1550.40" font-size="19.86" font-weight="normal" fill="#000" textLength="52.55" lengthAdjust="spacingAndGlyphs" >Scale:</text>
<text x="1092.30" y="1558.30" font-size="24.89" font-weight="normal" fill="#000" textLength="48.51" lengthAdjust="spacingAndGlyphs" >1 : 7</text>
<text x="78.74" y="1503.10" font-size="15.68" font-weight="normal" fill="#000" textLength="217.12" lengthAdjust="spacingAndGlyphs" >1722 Eisenhower Drive North</text>
<text x="78.68" y="1525.50" font-size="15.25" font-weight="normal" fill="#000" textLength="55.03" lengthAdjust="spacingAndGlyphs" >Suite B</text>
<text x="78.67" y="1547.60" font-size="14.82" font-weight="normal" fill="#000" textLength="135.69" lengthAdjust="spacingAndGlyphs" >Goshen, IN 46526</text>
<text x="79.80" y="1567.80" font-size="12.09" font-weight="bold" fill="#000" textLength="351.20" lengthAdjust="spacingAndGlyphs" >COPYRIGHT 2022 StairSupplies™ ALL RIGHTS RESERVED</text>
<text x="130.91" y="1455.10" font-size="27.91" font-weight="bold" fill="#1e1a12" textLength="89.31" lengthAdjust="spacingAndGlyphs" stroke="#1e1a12" stroke-width="0.9">STAIR</text>
<text x="219.46" y="1455.10" font-size="27.91" font-weight="normal" fill="#1e1a12" textLength="141.39" lengthAdjust="spacingAndGlyphs" stroke="#1e1a12" stroke-width="0.6">SUPPLIES</text>
<text x="806.06" y="308.10" font-size="24.75" font-weight="normal" fill="#000" textLength="113.47" lengthAdjust="spacingAndGlyphs" >RND SECT.</text>
<text x="742.10" y="451.80" font-size="24.03" font-weight="normal" fill="#000" textLength="234.69" lengthAdjust="spacingAndGlyphs" >HAMMERED SURFACE</text>
<text x="840.18" y="478.30" font-size="24.32" font-weight="normal" fill="#000" textLength="38.32" lengthAdjust="spacingAndGlyphs" >SQ.</text>
<text x="765.10" y="601.90" font-size="24.46" font-weight="normal" fill="#000" textLength="191.60" lengthAdjust="spacingAndGlyphs" >WINDOW DESIGN</text>
<text x="741.81" y="733.00" font-size="24.32" font-weight="normal" fill="#000" textLength="235.51" lengthAdjust="spacingAndGlyphs" >HAMMERED SURFACE</text>
<text x="840.17" y="759.50" font-size="24.32" font-weight="normal" fill="#000" textLength="38.85" lengthAdjust="spacingAndGlyphs" >SQ.</text>
<text x="765.40" y="880.80" font-size="24.32" font-weight="normal" fill="#000" textLength="190.80" lengthAdjust="spacingAndGlyphs" >WINDOW DESIGN</text>
<text x="741.81" y="1112.30" font-size="24.32" font-weight="normal" fill="#000" textLength="235.71" lengthAdjust="spacingAndGlyphs" >HAMMERED SURFACE</text>
<text x="840.07" y="1140.60" font-size="24.32" font-weight="normal" fill="#000" textLength="38.96" lengthAdjust="spacingAndGlyphs" >SQ.</text>
<text x="626.18" y="270.80" font-size="24.32" font-weight="normal" fill="#000" textLength="24.98" lengthAdjust="spacingAndGlyphs" >33</text>
<text x="626.92" y="294.90" font-size="24.32" font-weight="normal" fill="#000" textLength="23.79" lengthAdjust="spacingAndGlyphs" >64</text>
<text x="852.98" y="257.60" font-size="24.03" font-weight="normal" fill="#000" textLength="13.60" lengthAdjust="spacingAndGlyphs" >5</text>
<text x="852.98" y="280.70" font-size="24.17" font-weight="normal" fill="#000" textLength="13.68" lengthAdjust="spacingAndGlyphs" >8</text>
<text x="839.57" y="413.70" font-size="23.88" font-weight="normal" fill="#000" textLength="12.32" lengthAdjust="spacingAndGlyphs" >7</text>
<text x="857.01" y="400.80" font-size="24.32" font-weight="normal" fill="#000" textLength="12.04" lengthAdjust="spacingAndGlyphs" >7</text>
<text x="856.01" y="423.70" font-size="23.88" font-weight="normal" fill="#000" textLength="13.16" lengthAdjust="spacingAndGlyphs" >8</text>
<text x="602.28" y="475.90" font-size="24.75" font-weight="normal" fill="#000" textLength="12.62" lengthAdjust="spacingAndGlyphs" >2</text>
<text x="525.29" y="617.90" font-size="24.46" font-weight="normal" fill="#000" textLength="24.69" lengthAdjust="spacingAndGlyphs" >24</text>
<text x="556.88" y="628.70" font-size="24.03" font-weight="normal" fill="#000" textLength="12.27" lengthAdjust="spacingAndGlyphs" >2</text>
<text x="851.05" y="574.90" font-size="24.32" font-weight="normal" fill="#000" textLength="11.49" lengthAdjust="spacingAndGlyphs" >6</text>
<text x="851.06" y="705.90" font-size="24.32" font-weight="normal" fill="#000" textLength="11.30" lengthAdjust="spacingAndGlyphs" >7</text>
<text x="850.97" y="853.90" font-size="24.03" font-weight="normal" fill="#000" textLength="12.39" lengthAdjust="spacingAndGlyphs" >6</text>
<text x="602.10" y="967.90" font-size="24.32" font-weight="normal" fill="#000" textLength="13.52" lengthAdjust="spacingAndGlyphs" >2</text>
<text x="619.77" y="977.90" font-size="24.32" font-weight="normal" fill="#000" textLength="12.61" lengthAdjust="spacingAndGlyphs" >5</text>
<text x="845.97" y="1075.10" font-size="24.03" font-weight="normal" fill="#000" textLength="12.39" lengthAdjust="spacingAndGlyphs" >6</text>
<text x="863.12" y="1084.90" font-size="24.03" font-weight="normal" fill="#000" textLength="13.12" lengthAdjust="spacingAndGlyphs" >2</text>
<text x="778.88" y="1319.80" font-size="24.32" font-weight="normal" fill="#000" textLength="13.76" lengthAdjust="spacingAndGlyphs" >9</text>
<text x="786.17" y="1343.90" font-size="24.32" font-weight="normal" fill="#000" textLength="11.26" lengthAdjust="spacingAndGlyphs" >6</text>
<text x="1021.08" y="807.60" font-size="24.03" font-weight="normal" fill="#000" textLength="24.69" lengthAdjust="spacingAndGlyphs" >44</text>
<text x="616.14" y="386.90" font-size="24.32" font-weight="normal" fill="#000" textLength="26.06" lengthAdjust="spacingAndGlyphs" >45</text>
</svg>
</body></html>
